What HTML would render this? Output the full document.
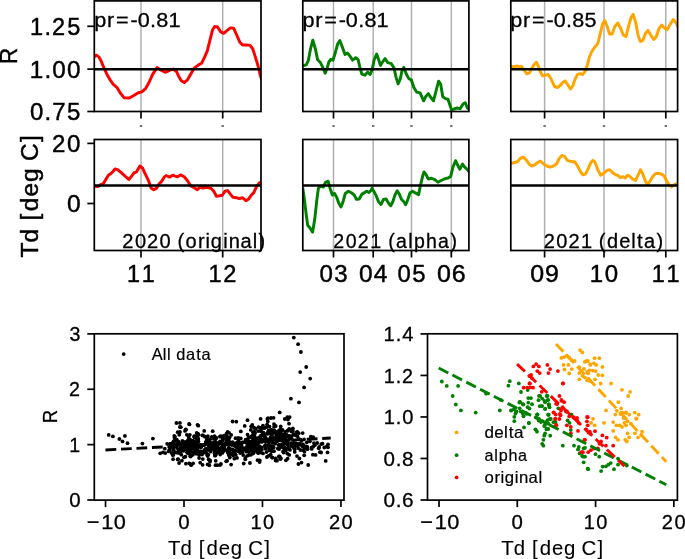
<!DOCTYPE html>
<html><head><meta charset="utf-8"><title>R vs Td</title>
<style>html,body{margin:0;padding:0;background:#fff;} svg{display:block;will-change:transform;} text{font-family:"Liberation Sans", sans-serif;}</style>
</head><body>
<svg width="685" height="559" viewBox="0 0 685 559">
<rect width="685" height="559" fill="#fff"/>
<defs><clipPath id="ct0"><rect x="94.3" y="0.9" width="166.7" height="110.6"/></clipPath><clipPath id="cm0"><rect x="94.3" y="139.5" width="166.7" height="111.0"/></clipPath><clipPath id="ct1"><rect x="302.8" y="0.9" width="166.09999999999997" height="110.6"/></clipPath><clipPath id="cm1"><rect x="302.8" y="139.5" width="166.09999999999997" height="111.0"/></clipPath><clipPath id="ct2"><rect x="510.8" y="0.9" width="166.8" height="110.6"/></clipPath><clipPath id="cm2"><rect x="510.8" y="139.5" width="166.8" height="111.0"/></clipPath><clipPath id="cbl"><rect x="94.3" y="333.8" width="249.7" height="166.3"/></clipPath><clipPath id="cbr"><rect x="427.5" y="333.8" width="249.89999999999998" height="166.3"/></clipPath></defs>
<line x1="141.00" y1="0.90" x2="141.00" y2="111.50" stroke="#b0b0b0" stroke-width="1.5"/>
<line x1="222.70" y1="0.90" x2="222.70" y2="111.50" stroke="#b0b0b0" stroke-width="1.5"/>
<line x1="141.00" y1="139.50" x2="141.00" y2="250.50" stroke="#b0b0b0" stroke-width="1.5"/>
<line x1="222.70" y1="139.50" x2="222.70" y2="250.50" stroke="#b0b0b0" stroke-width="1.5"/>
<line x1="333.50" y1="0.90" x2="333.50" y2="111.50" stroke="#b0b0b0" stroke-width="1.5"/>
<line x1="373.20" y1="0.90" x2="373.20" y2="111.50" stroke="#b0b0b0" stroke-width="1.5"/>
<line x1="411.50" y1="0.90" x2="411.50" y2="111.50" stroke="#b0b0b0" stroke-width="1.5"/>
<line x1="451.30" y1="0.90" x2="451.30" y2="111.50" stroke="#b0b0b0" stroke-width="1.5"/>
<line x1="333.50" y1="139.50" x2="333.50" y2="250.50" stroke="#b0b0b0" stroke-width="1.5"/>
<line x1="373.20" y1="139.50" x2="373.20" y2="250.50" stroke="#b0b0b0" stroke-width="1.5"/>
<line x1="411.50" y1="139.50" x2="411.50" y2="250.50" stroke="#b0b0b0" stroke-width="1.5"/>
<line x1="451.30" y1="139.50" x2="451.30" y2="250.50" stroke="#b0b0b0" stroke-width="1.5"/>
<line x1="544.60" y1="0.90" x2="544.60" y2="111.50" stroke="#b0b0b0" stroke-width="1.5"/>
<line x1="604.00" y1="0.90" x2="604.00" y2="111.50" stroke="#b0b0b0" stroke-width="1.5"/>
<line x1="665.80" y1="0.90" x2="665.80" y2="111.50" stroke="#b0b0b0" stroke-width="1.5"/>
<line x1="544.60" y1="139.50" x2="544.60" y2="250.50" stroke="#b0b0b0" stroke-width="1.5"/>
<line x1="604.00" y1="139.50" x2="604.00" y2="250.50" stroke="#b0b0b0" stroke-width="1.5"/>
<line x1="665.80" y1="139.50" x2="665.80" y2="250.50" stroke="#b0b0b0" stroke-width="1.5"/>
<g clip-path="url(#ct0)">
<polyline points="94.6,56.9 96.3,55.1 98.9,56.9 101.1,61.0 104.0,68.1 107.0,74.4 110.6,80.7 113.3,84.3 116.8,87.3 120.4,93.2 124.0,97.7 129.4,98.0 133.8,95.5 138.3,92.7 141.9,91.9 145.5,88.7 149.0,82.5 152.6,74.4 157.1,67.6 160.7,69.9 165.1,72.3 169.6,70.5 173.2,69.0 176.5,71.5 178.6,76.2 181.3,80.7 184.3,82.5 187.5,79.8 191.1,73.5 194.7,67.6 198.3,65.1 201.5,63.3 204.5,57.4 207.2,51.2 209.9,40.4 212.6,29.7 214.7,26.5 217.6,27.0 220.6,31.8 223.7,33.3 226.9,30.6 230.5,27.9 233.7,28.3 236.7,35.0 239.8,42.2 242.6,44.9 246.6,44.9 250.1,45.4 252.8,49.0 255.5,57.4 258.2,66.4 260.5,76.2 262.0,80.0" fill="none" stroke="#ff0000" stroke-width="2.95" stroke-linejoin="round" stroke-linecap="butt"/>
</g>
<g clip-path="url(#cm0)">
<polyline points="94.6,186.2 95.3,186.2 97.9,186.6 100.5,184.7 103.1,184.0 105.8,179.4 108.4,175.2 111.0,173.5 113.0,171.5 115.0,168.9 117.6,169.6 121.5,172.8 125.5,176.5 128.8,179.4 131.4,176.5 134.0,172.8 136.6,171.8 139.9,166.0 142.6,168.2 145.2,173.9 148.5,180.7 151.1,188.0 153.7,189.7 156.4,188.4 159.0,184.0 161.6,181.4 164.2,177.2 166.2,175.5 169.5,177.1 172.8,175.2 175.0,176.1 177.6,176.8 180.5,174.9 184.2,176.8 187.5,180.7 190.8,186.0 194.7,188.0 197.3,189.7 200.0,187.3 203.2,188.0 206.5,187.3 211.1,188.4 213.8,191.2 216.4,196.2 219.7,195.8 222.3,195.2 224.9,191.2 227.6,190.6 230.2,193.9 232.8,197.2 236.8,197.8 239.4,198.5 242.7,197.8 246.0,200.7 248.6,199.1 251.2,195.2 253.8,192.6 256.5,186.6 259.1,183.1 261.5,182.0" fill="none" stroke="#ff0000" stroke-width="2.95" stroke-linejoin="round" stroke-linecap="butt"/>
</g>
<g clip-path="url(#ct1)">
<polyline points="302.8,66.0 303.8,65.5 306.2,64.9 308.3,60.7 310.4,49.4 312.8,40.2 315.5,49.4 317.6,59.7 320.2,62.2 322.3,66.3 325.2,73.1 327.2,68.0 328.9,61.8 331.0,59.3 333.0,60.1 335.1,53.5 337.5,44.3 339.8,40.6 342.3,47.0 345.0,54.6 347.4,53.1 349.9,56.0 352.6,60.1 355.7,57.7 358.1,59.7 359.8,66.9 361.8,74.1 364.9,75.2 367.6,72.1 370.1,74.5 372.1,70.0 374.2,59.7 376.7,54.0 378.7,59.7 380.5,65.4 382.5,62.1 385.1,58.6 387.8,62.7 391.3,63.7 394.0,67.9 396.0,77.1 398.1,83.9 400.2,79.2 402.2,69.9 403.9,67.4 406.3,74.0 408.8,78.6 411.3,79.8 413.9,87.4 416.6,92.1 420.1,92.9 423.6,100.8 425.7,96.6 428.3,93.6 431.0,97.7 433.5,100.8 435.9,91.5 438.6,81.2 440.7,84.3 442.7,96.6 445.4,98.7 447.9,99.1 449.9,104.9 451.6,110.0 454.0,109.0 457.1,108.0 460.2,108.6 463.3,103.8 465.3,102.8 467.4,108.0 469.5,109.5" fill="none" stroke="#008000" stroke-width="2.95" stroke-linejoin="round" stroke-linecap="butt"/>
</g>
<g clip-path="url(#cm1)">
<polyline points="302.7,187.6 304.4,199.4 306.2,214.5 307.7,225.2 309.8,227.8 312.6,232.1 314.8,218.8 316.9,199.4 318.4,188.3 320.6,186.1 323.3,187.0 325.5,182.3 328.1,181.2 330.2,188.7 332.4,195.1 334.5,193.4 336.7,197.3 338.8,203.3 341.0,207.0 343.1,201.6 345.3,193.4 348.5,191.3 351.7,193.0 354.3,195.1 356.4,199.4 359.2,199.0 362.0,194.1 364.6,192.6 366.7,191.3 368.9,192.6 371.0,190.4 372.1,188.3 374.2,191.9 376.4,196.2 378.5,201.6 381.0,204.5 383.5,199.4 386.1,199.0 388.6,203.2 390.7,205.8 392.9,201.5 395.0,195.0 397.2,190.8 399.3,194.0 401.4,199.3 403.6,201.5 405.7,204.7 407.9,199.3 410.0,192.9 412.6,191.2 415.4,192.9 418.6,194.6 420.7,184.3 422.5,176.8 424.0,171.9 426.1,174.7 428.3,179.0 431.5,178.3 434.7,179.6 437.9,182.2 441.1,180.5 444.3,179.0 448.2,177.9 450.8,176.2 452.9,167.2 455.5,160.7 457.6,165.0 459.8,169.3 462.6,164.0 464.7,167.2 467.5,169.7 469.5,172.5" fill="none" stroke="#008000" stroke-width="2.95" stroke-linejoin="round" stroke-linecap="butt"/>
</g>
<g clip-path="url(#ct2)">
<polyline points="511.0,66.3 514.3,66.9 516.9,65.9 519.4,66.9 521.5,66.3 523.9,70.0 526.6,73.7 529.3,73.1 531.4,69.0 533.8,64.9 536.3,62.2 538.4,66.3 540.4,72.1 542.5,75.8 545.2,75.2 548.2,74.5 551.3,79.3 554.4,86.5 557.5,87.5 560.2,85.5 562.7,82.4 565.1,80.9 567.8,84.8 570.5,89.0 573.0,85.5 575.0,79.3 577.5,74.5 580.2,73.7 582.8,74.5 585.3,71.0 587.4,64.9 589.4,57.0 591.8,51.5 594.5,47.5 597.8,43.6 600.3,33.3 602.7,23.6 604.8,20.6 606.9,25.7 609.5,33.9 612.2,33.9 614.7,26.7 617.8,23.0 620.4,27.8 623.3,35.0 626.0,36.6 628.7,25.7 631.1,17.5 633.2,14.4 635.7,22.6 638.3,36.0 640.4,41.5 643.1,40.1 645.5,33.3 648.0,30.4 650.7,35.0 653.7,39.5 656.2,37.0 658.9,28.8 661.6,25.1 664.4,27.8 667.1,29.8 670.2,24.3 673.3,19.5 676.0,22.6 678.0,27.0" fill="none" stroke="#ffa500" stroke-width="2.95" stroke-linejoin="round" stroke-linecap="butt"/>
</g>
<g clip-path="url(#cm2)">
<polyline points="511.0,163.4 511.4,163.4 514.7,162.5 517.5,161.8 520.0,158.6 523.3,156.9 526.5,160.3 529.1,164.0 531.8,166.1 535.1,164.6 537.6,162.5 540.4,161.2 543.7,164.0 546.9,166.1 550.1,167.2 553.3,166.1 556.5,164.0 559.1,158.6 561.9,155.4 564.7,156.5 567.3,160.3 569.9,161.2 572.7,161.8 574.8,161.8 577.6,166.1 580.2,171.1 582.7,174.7 585.5,174.1 588.3,168.3 590.9,162.5 593.0,160.3 595.0,162.0 597.5,169.3 600.7,175.3 603.9,173.2 607.2,170.4 609.7,169.7 612.5,172.5 615.3,174.7 617.9,175.3 620.5,177.5 623.2,176.8 625.4,177.9 627.5,175.3 629.7,176.2 632.5,179.0 635.5,180.5 638.3,174.7 640.4,169.7 642.5,173.2 645.3,181.1 647.5,184.3 650.0,181.1 652.6,176.8 655.4,173.6 658.2,173.2 661.2,174.0 664.0,175.7 666.1,180.0 668.9,184.8 671.5,186.9 674.1,184.8 678.0,183.0" fill="none" stroke="#ffa500" stroke-width="2.95" stroke-linejoin="round" stroke-linecap="butt"/>
</g>
<line x1="94.30" y1="69.30" x2="261.00" y2="69.30" stroke="#000" stroke-width="2.5"/>
<line x1="94.30" y1="185.50" x2="261.00" y2="185.50" stroke="#000" stroke-width="2.5"/>
<line x1="302.80" y1="69.30" x2="468.90" y2="69.30" stroke="#000" stroke-width="2.5"/>
<line x1="302.80" y1="185.50" x2="468.90" y2="185.50" stroke="#000" stroke-width="2.5"/>
<line x1="510.80" y1="69.30" x2="677.60" y2="69.30" stroke="#000" stroke-width="2.5"/>
<line x1="510.80" y1="185.50" x2="677.60" y2="185.50" stroke="#000" stroke-width="2.5"/>
<rect x="94.30" y="0.90" width="166.70" height="110.60" fill="none" stroke="#000" stroke-width="1.7"/>
<rect x="94.30" y="139.50" width="166.70" height="111.00" fill="none" stroke="#000" stroke-width="1.7"/>
<line x1="141.00" y1="111.50" x2="141.00" y2="118.50" stroke="#000" stroke-width="1.7"/>
<line x1="141.00" y1="250.50" x2="141.00" y2="257.50" stroke="#000" stroke-width="1.7"/>
<rect x="139.8" y="125.1" width="2.4" height="1.8" fill="#666"/>
<line x1="222.70" y1="111.50" x2="222.70" y2="118.50" stroke="#000" stroke-width="1.7"/>
<line x1="222.70" y1="250.50" x2="222.70" y2="257.50" stroke="#000" stroke-width="1.7"/>
<rect x="221.5" y="125.1" width="2.4" height="1.8" fill="#666"/>
<text x="0.81 16.42" y="282.10" font-size="24.70" fill="#000" stroke="#000" stroke-width="0.45" transform="translate(126.18 0) scale(0.9498 1)">11</text>
<text x="0.78 16.11" y="282.10" font-size="24.70" fill="#000" stroke="#000" stroke-width="0.45" transform="translate(207.88 0) scale(0.9543 1)">12</text>
<rect x="302.80" y="0.90" width="166.10" height="110.60" fill="none" stroke="#000" stroke-width="1.7"/>
<rect x="302.80" y="139.50" width="166.10" height="111.00" fill="none" stroke="#000" stroke-width="1.7"/>
<line x1="333.50" y1="111.50" x2="333.50" y2="118.50" stroke="#000" stroke-width="1.7"/>
<line x1="333.50" y1="250.50" x2="333.50" y2="257.50" stroke="#000" stroke-width="1.7"/>
<rect x="332.3" y="125.1" width="2.4" height="1.8" fill="#666"/>
<line x1="373.20" y1="111.50" x2="373.20" y2="118.50" stroke="#000" stroke-width="1.7"/>
<line x1="373.20" y1="250.50" x2="373.20" y2="257.50" stroke="#000" stroke-width="1.7"/>
<rect x="372.0" y="125.1" width="2.4" height="1.8" fill="#666"/>
<line x1="411.50" y1="111.50" x2="411.50" y2="118.50" stroke="#000" stroke-width="1.7"/>
<line x1="411.50" y1="250.50" x2="411.50" y2="257.50" stroke="#000" stroke-width="1.7"/>
<rect x="410.3" y="125.1" width="2.4" height="1.8" fill="#666"/>
<line x1="451.30" y1="111.50" x2="451.30" y2="118.50" stroke="#000" stroke-width="1.7"/>
<line x1="451.30" y1="250.50" x2="451.30" y2="257.50" stroke="#000" stroke-width="1.7"/>
<rect x="450.1" y="125.1" width="2.4" height="1.8" fill="#666"/>
<text x="0.73 15.97" y="282.10" font-size="24.70" fill="#000" stroke="#000" stroke-width="0.45" transform="translate(318.68 0) scale(0.9748 1)">03</text>
<text x="0.58 15.48" y="282.10" font-size="24.70" fill="#000" stroke="#000" stroke-width="0.45" transform="translate(358.38 0) scale(0.9945 1)">04</text>
<text x="0.79 16.04" y="282.10" font-size="24.70" fill="#000" stroke="#000" stroke-width="0.45" transform="translate(396.68 0) scale(0.9666 1)">05</text>
<text x="0.45 15.11" y="282.10" font-size="24.70" fill="#000" stroke="#000" stroke-width="0.45" transform="translate(436.48 0) scale(1.0116 1)">06</text>
<rect x="510.80" y="0.90" width="166.80" height="110.60" fill="none" stroke="#000" stroke-width="1.7"/>
<rect x="510.80" y="139.50" width="166.80" height="111.00" fill="none" stroke="#000" stroke-width="1.7"/>
<line x1="544.60" y1="111.50" x2="544.60" y2="118.50" stroke="#000" stroke-width="1.7"/>
<line x1="544.60" y1="250.50" x2="544.60" y2="257.50" stroke="#000" stroke-width="1.7"/>
<rect x="543.4" y="125.1" width="2.4" height="1.8" fill="#666"/>
<line x1="604.00" y1="111.50" x2="604.00" y2="118.50" stroke="#000" stroke-width="1.7"/>
<line x1="604.00" y1="250.50" x2="604.00" y2="257.50" stroke="#000" stroke-width="1.7"/>
<rect x="602.8" y="125.1" width="2.4" height="1.8" fill="#666"/>
<line x1="665.80" y1="111.50" x2="665.80" y2="118.50" stroke="#000" stroke-width="1.7"/>
<line x1="665.80" y1="250.50" x2="665.80" y2="257.50" stroke="#000" stroke-width="1.7"/>
<rect x="664.6" y="125.1" width="2.4" height="1.8" fill="#666"/>
<text x="0.46 15.06" y="282.10" font-size="24.70" fill="#000" stroke="#000" stroke-width="0.45" transform="translate(529.78 0) scale(1.0105 1)">09</text>
<text x="0.62 15.97" y="282.10" font-size="24.70" fill="#000" stroke="#000" stroke-width="0.45" transform="translate(589.18 0) scale(0.9733 1)">10</text>
<text x="0.81 16.42" y="282.10" font-size="24.70" fill="#000" stroke="#000" stroke-width="0.45" transform="translate(650.98 0) scale(0.9498 1)">11</text>
<line x1="87.30" y1="26.30" x2="94.30" y2="26.30" stroke="#000" stroke-width="1.7"/>
<text x="0.78 15.99 23.89 39.67" y="34.80" font-size="24.70" fill="#000" stroke="#000" stroke-width="0.45" transform="translate(29.32 0) scale(0.9535 1)">1.25</text>
<line x1="87.30" y1="69.10" x2="94.30" y2="69.10" stroke="#000" stroke-width="1.7"/>
<text x="0.54 15.40 23.28 38.35" y="77.60" font-size="24.70" fill="#000" stroke="#000" stroke-width="0.45" transform="translate(29.32 0) scale(0.9832 1)">1.00</text>
<line x1="87.30" y1="111.50" x2="94.30" y2="111.50" stroke="#000" stroke-width="1.7"/>
<text x="0.75 15.62 23.58 38.78" y="120.00" font-size="24.70" fill="#000" stroke="#000" stroke-width="0.45" transform="translate(29.32 0) scale(0.9719 1)">0.75</text>
<line x1="87.30" y1="143.40" x2="94.30" y2="143.40" stroke="#000" stroke-width="1.7"/>
<text x="0.40 15.89" y="151.90" font-size="24.70" fill="#000" stroke="#000" stroke-width="0.45" transform="translate(51.55 0) scale(0.9769 1)">20</text>
<line x1="87.30" y1="203.50" x2="94.30" y2="203.50" stroke="#000" stroke-width="1.7"/>
<text x="0.58" y="212.00" font-size="24.70" fill="#000" stroke="#000" stroke-width="0.45" transform="translate(66.38 0) scale(0.9945 1)">0</text>
<text x="0.51" y="56.40" font-size="24.70" fill="#000" stroke="#000" stroke-width="0.45" transform="rotate(-90 17.20 56.40) translate(9.11 0) scale(0.9023 1)">R</text>
<text x="-0.37 14.78 29.25 36.94 46.31 61.17 75.66 90.12 96.73 116.04" y="196.00" font-size="24.70" fill="#000" stroke="#000" stroke-width="0.45" transform="rotate(-90 38.40 196.00) translate(-22.70 0) scale(0.9924 1)">Td [deg C]</text>
<text x="0.23 12.39 21.00 34.62 41.50 53.15 59.09 70.70" y="26.70" font-size="20.56" fill="#000" stroke="#000" stroke-width="0.3" transform="translate(94.00 0) scale(1.0527 1)">pr=-0.81</text>
<text x="0.23 12.39 21.00 34.62 41.50 53.15 59.09 70.70" y="26.70" font-size="20.56" fill="#000" stroke="#000" stroke-width="0.3" transform="translate(302.20 0) scale(1.0527 1)">pr=-0.81</text>
<text x="0.25 12.44 21.08 34.74 41.65 53.33 59.29 70.98" y="26.70" font-size="20.56" fill="#000" stroke="#000" stroke-width="0.3" transform="translate(510.00 0) scale(1.0494 1)">pr=-0.85</text>
<text x="0.34 13.25 25.64 38.55 50.60 56.85 65.04 77.89 85.50 91.00 103.64 109.30 121.44 133.94 139.96" y="248.40" font-size="20.56" fill="#000" stroke="#000" stroke-width="0.3" transform="translate(122.00 0) scale(0.9758 1)">2020 (original)</text>
<text x="0.49 13.73 26.43 39.57 51.87 58.38 66.60 79.34 85.34 98.15 110.61 123.87" y="248.40" font-size="20.56" fill="#000" stroke="#000" stroke-width="0.3" transform="translate(332.70 0) scale(0.9518 1)">2021 (alpha)</text>
<text x="0.36 13.32 25.75 38.60 50.77 57.06 65.39 78.02 90.32 96.38 103.38 116.41" y="248.40" font-size="20.56" fill="#000" stroke="#000" stroke-width="0.3" transform="translate(543.40 0) scale(0.9724 1)">2021 (delta)</text>
<g clip-path="url(#cbl)">
<circle cx="293.8" cy="337.6" r="1.9"/>
<circle cx="298.1" cy="344.2" r="1.9"/>
<circle cx="300.9" cy="352.0" r="1.9"/>
<circle cx="306.2" cy="367.0" r="1.9"/>
<circle cx="300.2" cy="372.1" r="1.9"/>
<circle cx="310.2" cy="378.6" r="1.9"/>
<circle cx="304.1" cy="387.4" r="1.9"/>
<circle cx="290.9" cy="398.7" r="1.9"/>
<circle cx="299.0" cy="402.4" r="1.9"/>
<circle cx="279.7" cy="412.4" r="1.9"/>
<circle cx="108.7" cy="434.9" r="1.9"/>
<circle cx="112.9" cy="436.4" r="1.9"/>
<circle cx="119.4" cy="439.0" r="1.9"/>
<circle cx="122.5" cy="441.4" r="1.9"/>
<circle cx="124.9" cy="435.9" r="1.9"/>
<circle cx="127.5" cy="443.2" r="1.9"/>
<circle cx="142.4" cy="443.6" r="1.9"/>
<circle cx="152.9" cy="438.6" r="1.9"/>
<circle cx="160.2" cy="453.3" r="1.9"/>
<circle cx="163.0" cy="452.4" r="1.9"/>
<circle cx="164.8" cy="448.7" r="1.9"/>
<circle cx="167.2" cy="443.8" r="1.9"/>
<circle cx="173.1" cy="459.2" r="1.9"/>
<circle cx="178.2" cy="459.2" r="1.9"/>
<circle cx="181.9" cy="460.7" r="1.9"/>
<circle cx="180.1" cy="452.4" r="1.9"/>
<circle cx="173.1" cy="442.3" r="1.9"/>
<circle cx="174.9" cy="436.8" r="1.9"/>
<circle cx="177.7" cy="432.2" r="1.9"/>
<circle cx="180.8" cy="427.2" r="1.9"/>
<circle cx="189.1" cy="423.9" r="1.9"/>
<circle cx="197.5" cy="424.8" r="1.9"/>
<circle cx="185.0" cy="430.9" r="1.9"/>
<circle cx="232.6" cy="442.1" r="1.9"/>
<circle cx="195.3" cy="451.8" r="1.9"/>
<circle cx="183.8" cy="450.0" r="1.9"/>
<circle cx="222.3" cy="452.9" r="1.9"/>
<circle cx="247.2" cy="448.3" r="1.9"/>
<circle cx="287.3" cy="453.6" r="1.9"/>
<circle cx="192.9" cy="452.2" r="1.9"/>
<circle cx="286.0" cy="434.6" r="1.9"/>
<circle cx="281.5" cy="444.7" r="1.9"/>
<circle cx="199.1" cy="458.1" r="1.9"/>
<circle cx="194.0" cy="448.2" r="1.9"/>
<circle cx="302.0" cy="446.1" r="1.9"/>
<circle cx="253.0" cy="453.6" r="1.9"/>
<circle cx="292.0" cy="444.8" r="1.9"/>
<circle cx="290.1" cy="436.2" r="1.9"/>
<circle cx="264.9" cy="434.2" r="1.9"/>
<circle cx="196.7" cy="442.5" r="1.9"/>
<circle cx="201.5" cy="445.7" r="1.9"/>
<circle cx="252.7" cy="451.4" r="1.9"/>
<circle cx="193.9" cy="446.9" r="1.9"/>
<circle cx="179.0" cy="450.3" r="1.9"/>
<circle cx="232.6" cy="421.5" r="1.9"/>
<circle cx="228.9" cy="441.1" r="1.9"/>
<circle cx="232.0" cy="445.0" r="1.9"/>
<circle cx="174.3" cy="445.2" r="1.9"/>
<circle cx="185.5" cy="444.2" r="1.9"/>
<circle cx="211.8" cy="436.8" r="1.9"/>
<circle cx="206.4" cy="437.2" r="1.9"/>
<circle cx="249.3" cy="449.7" r="1.9"/>
<circle cx="281.3" cy="447.1" r="1.9"/>
<circle cx="277.5" cy="440.6" r="1.9"/>
<circle cx="243.2" cy="455.0" r="1.9"/>
<circle cx="220.6" cy="436.2" r="1.9"/>
<circle cx="194.4" cy="437.3" r="1.9"/>
<circle cx="221.3" cy="448.7" r="1.9"/>
<circle cx="213.2" cy="444.3" r="1.9"/>
<circle cx="194.7" cy="447.9" r="1.9"/>
<circle cx="165.3" cy="453.1" r="1.9"/>
<circle cx="295.1" cy="446.2" r="1.9"/>
<circle cx="187.8" cy="447.4" r="1.9"/>
<circle cx="222.9" cy="447.7" r="1.9"/>
<circle cx="251.1" cy="441.6" r="1.9"/>
<circle cx="231.5" cy="453.8" r="1.9"/>
<circle cx="261.2" cy="449.8" r="1.9"/>
<circle cx="232.2" cy="449.4" r="1.9"/>
<circle cx="170.6" cy="443.9" r="1.9"/>
<circle cx="184.0" cy="457.3" r="1.9"/>
<circle cx="179.1" cy="463.0" r="1.9"/>
<circle cx="214.6" cy="444.2" r="1.9"/>
<circle cx="199.7" cy="446.5" r="1.9"/>
<circle cx="190.1" cy="463.8" r="1.9"/>
<circle cx="255.5" cy="442.7" r="1.9"/>
<circle cx="189.6" cy="453.6" r="1.9"/>
<circle cx="294.0" cy="442.7" r="1.9"/>
<circle cx="183.4" cy="450.8" r="1.9"/>
<circle cx="224.8" cy="445.5" r="1.9"/>
<circle cx="256.9" cy="448.5" r="1.9"/>
<circle cx="229.7" cy="444.2" r="1.9"/>
<circle cx="181.5" cy="443.8" r="1.9"/>
<circle cx="227.3" cy="444.4" r="1.9"/>
<circle cx="296.3" cy="443.4" r="1.9"/>
<circle cx="278.9" cy="440.0" r="1.9"/>
<circle cx="199.0" cy="455.1" r="1.9"/>
<circle cx="205.0" cy="452.1" r="1.9"/>
<circle cx="257.1" cy="440.2" r="1.9"/>
<circle cx="264.8" cy="445.8" r="1.9"/>
<circle cx="198.1" cy="434.0" r="1.9"/>
<circle cx="284.5" cy="447.8" r="1.9"/>
<circle cx="252.7" cy="435.6" r="1.9"/>
<circle cx="189.5" cy="424.4" r="1.9"/>
<circle cx="285.4" cy="438.2" r="1.9"/>
<circle cx="228.5" cy="451.6" r="1.9"/>
<circle cx="270.3" cy="433.3" r="1.9"/>
<circle cx="189.0" cy="440.3" r="1.9"/>
<circle cx="276.4" cy="437.8" r="1.9"/>
<circle cx="215.8" cy="454.0" r="1.9"/>
<circle cx="263.3" cy="439.7" r="1.9"/>
<circle cx="291.2" cy="446.1" r="1.9"/>
<circle cx="257.8" cy="452.6" r="1.9"/>
<circle cx="200.6" cy="451.2" r="1.9"/>
<circle cx="179.3" cy="444.7" r="1.9"/>
<circle cx="289.0" cy="429.7" r="1.9"/>
<circle cx="173.7" cy="444.5" r="1.9"/>
<circle cx="272.0" cy="457.4" r="1.9"/>
<circle cx="215.6" cy="438.3" r="1.9"/>
<circle cx="202.4" cy="452.4" r="1.9"/>
<circle cx="275.3" cy="443.7" r="1.9"/>
<circle cx="202.0" cy="454.6" r="1.9"/>
<circle cx="186.3" cy="445.7" r="1.9"/>
<circle cx="249.3" cy="443.4" r="1.9"/>
<circle cx="287.9" cy="443.7" r="1.9"/>
<circle cx="198.4" cy="441.5" r="1.9"/>
<circle cx="174.8" cy="441.3" r="1.9"/>
<circle cx="185.0" cy="444.5" r="1.9"/>
<circle cx="313.2" cy="437.1" r="1.9"/>
<circle cx="280.3" cy="438.0" r="1.9"/>
<circle cx="230.0" cy="453.4" r="1.9"/>
<circle cx="191.4" cy="442.9" r="1.9"/>
<circle cx="273.6" cy="417.8" r="1.9"/>
<circle cx="283.1" cy="451.4" r="1.9"/>
<circle cx="206.1" cy="449.7" r="1.9"/>
<circle cx="269.4" cy="431.0" r="1.9"/>
<circle cx="273.8" cy="432.7" r="1.9"/>
<circle cx="225.4" cy="443.5" r="1.9"/>
<circle cx="265.5" cy="448.8" r="1.9"/>
<circle cx="261.2" cy="447.7" r="1.9"/>
<circle cx="297.4" cy="436.2" r="1.9"/>
<circle cx="180.0" cy="432.0" r="1.9"/>
<circle cx="301.5" cy="462.6" r="1.9"/>
<circle cx="200.5" cy="447.2" r="1.9"/>
<circle cx="271.1" cy="448.4" r="1.9"/>
<circle cx="189.1" cy="449.1" r="1.9"/>
<circle cx="273.1" cy="446.4" r="1.9"/>
<circle cx="187.1" cy="442.2" r="1.9"/>
<circle cx="300.4" cy="450.0" r="1.9"/>
<circle cx="180.4" cy="448.6" r="1.9"/>
<circle cx="256.2" cy="443.2" r="1.9"/>
<circle cx="183.3" cy="449.1" r="1.9"/>
<circle cx="194.4" cy="441.6" r="1.9"/>
<circle cx="218.3" cy="442.8" r="1.9"/>
<circle cx="231.1" cy="464.6" r="1.9"/>
<circle cx="224.2" cy="435.9" r="1.9"/>
<circle cx="240.1" cy="447.7" r="1.9"/>
<circle cx="235.5" cy="438.2" r="1.9"/>
<circle cx="190.6" cy="444.4" r="1.9"/>
<circle cx="216.1" cy="445.1" r="1.9"/>
<circle cx="232.0" cy="444.4" r="1.9"/>
<circle cx="293.7" cy="447.3" r="1.9"/>
<circle cx="258.6" cy="438.1" r="1.9"/>
<circle cx="220.9" cy="464.0" r="1.9"/>
<circle cx="278.4" cy="438.2" r="1.9"/>
<circle cx="258.9" cy="448.1" r="1.9"/>
<circle cx="203.5" cy="452.4" r="1.9"/>
<circle cx="179.2" cy="434.8" r="1.9"/>
<circle cx="277.0" cy="460.7" r="1.9"/>
<circle cx="274.2" cy="439.6" r="1.9"/>
<circle cx="267.8" cy="432.4" r="1.9"/>
<circle cx="271.0" cy="418.0" r="1.9"/>
<circle cx="216.0" cy="453.3" r="1.9"/>
<circle cx="310.8" cy="436.7" r="1.9"/>
<circle cx="260.3" cy="441.1" r="1.9"/>
<circle cx="185.7" cy="429.4" r="1.9"/>
<circle cx="265.6" cy="444.8" r="1.9"/>
<circle cx="281.7" cy="444.4" r="1.9"/>
<circle cx="272.1" cy="434.8" r="1.9"/>
<circle cx="182.5" cy="449.5" r="1.9"/>
<circle cx="219.9" cy="436.7" r="1.9"/>
<circle cx="288.5" cy="435.8" r="1.9"/>
<circle cx="272.9" cy="440.5" r="1.9"/>
<circle cx="173.5" cy="441.5" r="1.9"/>
<circle cx="237.9" cy="450.9" r="1.9"/>
<circle cx="257.0" cy="438.2" r="1.9"/>
<circle cx="261.9" cy="447.3" r="1.9"/>
<circle cx="255.7" cy="428.9" r="1.9"/>
<circle cx="185.9" cy="463.7" r="1.9"/>
<circle cx="195.3" cy="436.5" r="1.9"/>
<circle cx="190.5" cy="456.5" r="1.9"/>
<circle cx="200.6" cy="444.8" r="1.9"/>
<circle cx="234.8" cy="452.9" r="1.9"/>
<circle cx="270.0" cy="439.8" r="1.9"/>
<circle cx="208.9" cy="446.2" r="1.9"/>
<circle cx="205.7" cy="449.2" r="1.9"/>
<circle cx="185.4" cy="456.7" r="1.9"/>
<circle cx="178.3" cy="441.5" r="1.9"/>
<circle cx="309.9" cy="441.4" r="1.9"/>
<circle cx="190.3" cy="450.7" r="1.9"/>
<circle cx="247.8" cy="442.1" r="1.9"/>
<circle cx="263.4" cy="432.6" r="1.9"/>
<circle cx="273.7" cy="437.8" r="1.9"/>
<circle cx="175.1" cy="439.8" r="1.9"/>
<circle cx="214.3" cy="448.6" r="1.9"/>
<circle cx="319.2" cy="447.0" r="1.9"/>
<circle cx="283.5" cy="443.6" r="1.9"/>
<circle cx="257.4" cy="445.0" r="1.9"/>
<circle cx="210.1" cy="439.2" r="1.9"/>
<circle cx="220.7" cy="449.2" r="1.9"/>
<circle cx="278.9" cy="456.5" r="1.9"/>
<circle cx="195.8" cy="448.0" r="1.9"/>
<circle cx="254.4" cy="450.1" r="1.9"/>
<circle cx="264.3" cy="428.2" r="1.9"/>
<circle cx="307.2" cy="446.8" r="1.9"/>
<circle cx="228.7" cy="455.1" r="1.9"/>
<circle cx="288.8" cy="440.1" r="1.9"/>
<circle cx="178.8" cy="450.2" r="1.9"/>
<circle cx="177.1" cy="445.4" r="1.9"/>
<circle cx="270.7" cy="436.9" r="1.9"/>
<circle cx="175.4" cy="452.1" r="1.9"/>
<circle cx="206.9" cy="439.6" r="1.9"/>
<circle cx="197.6" cy="436.3" r="1.9"/>
<circle cx="214.9" cy="451.8" r="1.9"/>
<circle cx="297.0" cy="456.1" r="1.9"/>
<circle cx="326.8" cy="446.5" r="1.9"/>
<circle cx="305.1" cy="446.9" r="1.9"/>
<circle cx="294.6" cy="446.6" r="1.9"/>
<circle cx="177.6" cy="459.4" r="1.9"/>
<circle cx="216.7" cy="447.1" r="1.9"/>
<circle cx="261.8" cy="449.6" r="1.9"/>
<circle cx="223.1" cy="437.8" r="1.9"/>
<circle cx="237.0" cy="443.2" r="1.9"/>
<circle cx="189.7" cy="440.2" r="1.9"/>
<circle cx="212.7" cy="431.2" r="1.9"/>
<circle cx="289.4" cy="449.0" r="1.9"/>
<circle cx="298.4" cy="464.0" r="1.9"/>
<circle cx="248.9" cy="441.4" r="1.9"/>
<circle cx="263.0" cy="453.4" r="1.9"/>
<circle cx="212.4" cy="447.3" r="1.9"/>
<circle cx="240.2" cy="453.0" r="1.9"/>
<circle cx="275.6" cy="460.6" r="1.9"/>
<circle cx="230.7" cy="442.7" r="1.9"/>
<circle cx="321.2" cy="444.1" r="1.9"/>
<circle cx="236.0" cy="445.9" r="1.9"/>
<circle cx="269.9" cy="440.0" r="1.9"/>
<circle cx="302.9" cy="445.9" r="1.9"/>
<circle cx="253.9" cy="452.6" r="1.9"/>
<circle cx="268.7" cy="455.8" r="1.9"/>
<circle cx="246.5" cy="441.9" r="1.9"/>
<circle cx="173.5" cy="454.8" r="1.9"/>
<circle cx="312.9" cy="454.7" r="1.9"/>
<circle cx="282.9" cy="438.7" r="1.9"/>
<circle cx="300.1" cy="444.3" r="1.9"/>
<circle cx="255.1" cy="433.0" r="1.9"/>
<circle cx="194.9" cy="443.4" r="1.9"/>
<circle cx="327.5" cy="452.4" r="1.9"/>
<circle cx="230.2" cy="450.1" r="1.9"/>
<circle cx="214.5" cy="448.0" r="1.9"/>
<circle cx="188.0" cy="450.1" r="1.9"/>
<circle cx="251.7" cy="451.0" r="1.9"/>
<circle cx="265.2" cy="437.1" r="1.9"/>
<circle cx="243.4" cy="448.1" r="1.9"/>
<circle cx="230.6" cy="454.4" r="1.9"/>
<circle cx="183.8" cy="447.5" r="1.9"/>
<circle cx="291.1" cy="443.1" r="1.9"/>
<circle cx="289.2" cy="436.5" r="1.9"/>
<circle cx="261.5" cy="441.9" r="1.9"/>
<circle cx="215.5" cy="455.3" r="1.9"/>
<circle cx="194.0" cy="442.6" r="1.9"/>
<circle cx="308.2" cy="465.0" r="1.9"/>
<circle cx="179.9" cy="451.9" r="1.9"/>
<circle cx="248.5" cy="441.7" r="1.9"/>
<circle cx="228.7" cy="448.4" r="1.9"/>
<circle cx="245.3" cy="459.3" r="1.9"/>
<circle cx="176.7" cy="439.7" r="1.9"/>
<circle cx="221.6" cy="448.5" r="1.9"/>
<circle cx="232.1" cy="453.3" r="1.9"/>
<circle cx="294.7" cy="449.3" r="1.9"/>
<circle cx="235.2" cy="445.5" r="1.9"/>
<circle cx="209.1" cy="442.9" r="1.9"/>
<circle cx="286.7" cy="435.0" r="1.9"/>
<circle cx="285.8" cy="450.5" r="1.9"/>
<circle cx="198.3" cy="425.7" r="1.9"/>
<circle cx="238.0" cy="439.2" r="1.9"/>
<circle cx="261.0" cy="439.2" r="1.9"/>
<circle cx="188.0" cy="447.3" r="1.9"/>
<circle cx="256.7" cy="438.6" r="1.9"/>
<circle cx="202.6" cy="464.8" r="1.9"/>
<circle cx="222.8" cy="450.7" r="1.9"/>
<circle cx="291.5" cy="429.7" r="1.9"/>
<circle cx="207.6" cy="464.4" r="1.9"/>
<circle cx="314.8" cy="445.2" r="1.9"/>
<circle cx="233.2" cy="455.6" r="1.9"/>
<circle cx="297.7" cy="443.9" r="1.9"/>
<circle cx="247.3" cy="447.1" r="1.9"/>
<circle cx="205.4" cy="443.7" r="1.9"/>
<circle cx="285.0" cy="431.6" r="1.9"/>
<circle cx="215.7" cy="460.8" r="1.9"/>
<circle cx="193.8" cy="446.7" r="1.9"/>
<circle cx="239.0" cy="444.2" r="1.9"/>
<circle cx="303.2" cy="450.2" r="1.9"/>
<circle cx="228.7" cy="451.0" r="1.9"/>
<circle cx="238.5" cy="448.1" r="1.9"/>
<circle cx="187.8" cy="452.7" r="1.9"/>
<circle cx="219.5" cy="449.1" r="1.9"/>
<circle cx="197.1" cy="436.5" r="1.9"/>
<circle cx="280.6" cy="439.0" r="1.9"/>
<circle cx="250.9" cy="436.7" r="1.9"/>
<circle cx="223.2" cy="450.0" r="1.9"/>
<circle cx="210.3" cy="444.5" r="1.9"/>
<circle cx="204.3" cy="452.6" r="1.9"/>
<circle cx="174.8" cy="446.0" r="1.9"/>
<circle cx="214.9" cy="455.7" r="1.9"/>
<circle cx="206.6" cy="452.9" r="1.9"/>
<circle cx="177.0" cy="448.1" r="1.9"/>
<circle cx="251.8" cy="441.5" r="1.9"/>
<circle cx="204.3" cy="450.1" r="1.9"/>
<circle cx="175.4" cy="445.6" r="1.9"/>
<circle cx="268.6" cy="445.1" r="1.9"/>
<circle cx="285.9" cy="460.3" r="1.9"/>
<circle cx="301.4" cy="440.9" r="1.9"/>
<circle cx="254.1" cy="435.6" r="1.9"/>
<circle cx="169.5" cy="450.1" r="1.9"/>
<circle cx="307.5" cy="449.2" r="1.9"/>
<circle cx="237.0" cy="457.9" r="1.9"/>
<circle cx="182.4" cy="440.8" r="1.9"/>
<circle cx="287.3" cy="417.2" r="1.9"/>
<circle cx="173.4" cy="450.6" r="1.9"/>
<circle cx="196.7" cy="433.0" r="1.9"/>
<circle cx="181.2" cy="446.7" r="1.9"/>
<circle cx="305.8" cy="446.4" r="1.9"/>
<circle cx="303.0" cy="444.3" r="1.9"/>
<circle cx="282.4" cy="436.2" r="1.9"/>
<circle cx="215.8" cy="448.2" r="1.9"/>
<circle cx="224.2" cy="448.2" r="1.9"/>
<circle cx="215.9" cy="438.0" r="1.9"/>
<circle cx="193.1" cy="442.3" r="1.9"/>
<circle cx="240.8" cy="431.4" r="1.9"/>
<circle cx="207.7" cy="449.1" r="1.9"/>
<circle cx="208.8" cy="443.5" r="1.9"/>
<circle cx="218.4" cy="452.1" r="1.9"/>
<circle cx="276.1" cy="434.9" r="1.9"/>
<circle cx="201.2" cy="447.1" r="1.9"/>
<circle cx="254.0" cy="438.7" r="1.9"/>
<circle cx="249.9" cy="463.0" r="1.9"/>
<circle cx="254.8" cy="446.4" r="1.9"/>
<circle cx="195.6" cy="443.0" r="1.9"/>
<circle cx="179.2" cy="450.7" r="1.9"/>
<circle cx="253.7" cy="442.1" r="1.9"/>
<circle cx="279.1" cy="449.0" r="1.9"/>
<circle cx="216.3" cy="438.0" r="1.9"/>
<circle cx="279.8" cy="433.0" r="1.9"/>
<circle cx="215.3" cy="441.4" r="1.9"/>
<circle cx="233.9" cy="451.2" r="1.9"/>
<circle cx="197.2" cy="437.0" r="1.9"/>
<circle cx="210.5" cy="443.9" r="1.9"/>
<circle cx="210.4" cy="449.9" r="1.9"/>
<circle cx="179.9" cy="426.9" r="1.9"/>
<circle cx="261.4" cy="431.6" r="1.9"/>
<circle cx="260.5" cy="449.7" r="1.9"/>
<circle cx="214.4" cy="450.5" r="1.9"/>
<circle cx="188.1" cy="453.4" r="1.9"/>
<circle cx="218.0" cy="450.5" r="1.9"/>
<circle cx="257.9" cy="442.0" r="1.9"/>
<circle cx="284.4" cy="447.2" r="1.9"/>
<circle cx="302.5" cy="445.3" r="1.9"/>
<circle cx="181.0" cy="448.1" r="1.9"/>
<circle cx="272.7" cy="442.9" r="1.9"/>
<circle cx="261.7" cy="427.7" r="1.9"/>
<circle cx="304.0" cy="439.4" r="1.9"/>
<circle cx="240.8" cy="438.4" r="1.9"/>
<circle cx="250.8" cy="429.9" r="1.9"/>
<circle cx="215.5" cy="465.2" r="1.9"/>
<circle cx="278.1" cy="434.9" r="1.9"/>
<circle cx="251.5" cy="437.4" r="1.9"/>
<circle cx="180.4" cy="452.6" r="1.9"/>
<circle cx="229.8" cy="442.5" r="1.9"/>
<circle cx="176.3" cy="439.9" r="1.9"/>
<circle cx="318.7" cy="448.3" r="1.9"/>
<circle cx="196.0" cy="448.2" r="1.9"/>
<circle cx="240.7" cy="443.1" r="1.9"/>
<circle cx="221.7" cy="451.1" r="1.9"/>
<circle cx="168.7" cy="451.4" r="1.9"/>
<circle cx="293.5" cy="444.0" r="1.9"/>
<circle cx="203.7" cy="445.0" r="1.9"/>
<circle cx="236.3" cy="421.7" r="1.9"/>
<circle cx="174.5" cy="437.7" r="1.9"/>
<circle cx="268.0" cy="418.2" r="1.9"/>
<circle cx="251.2" cy="426.3" r="1.9"/>
<circle cx="238.3" cy="437.8" r="1.9"/>
<circle cx="196.6" cy="446.8" r="1.9"/>
<circle cx="298.7" cy="438.8" r="1.9"/>
<circle cx="287.1" cy="448.6" r="1.9"/>
<circle cx="287.6" cy="458.7" r="1.9"/>
<circle cx="282.9" cy="437.6" r="1.9"/>
<circle cx="251.4" cy="445.5" r="1.9"/>
<circle cx="243.7" cy="463.5" r="1.9"/>
<circle cx="224.1" cy="446.7" r="1.9"/>
<circle cx="282.5" cy="430.0" r="1.9"/>
<circle cx="247.2" cy="439.6" r="1.9"/>
<circle cx="228.3" cy="442.0" r="1.9"/>
<circle cx="188.1" cy="447.9" r="1.9"/>
<circle cx="209.9" cy="443.4" r="1.9"/>
<circle cx="173.1" cy="448.1" r="1.9"/>
<circle cx="190.3" cy="456.0" r="1.9"/>
<circle cx="269.7" cy="441.9" r="1.9"/>
<circle cx="218.5" cy="451.5" r="1.9"/>
<circle cx="229.1" cy="448.1" r="1.9"/>
<circle cx="266.5" cy="427.2" r="1.9"/>
<circle cx="245.7" cy="439.6" r="1.9"/>
<circle cx="229.1" cy="432.8" r="1.9"/>
<circle cx="247.1" cy="455.8" r="1.9"/>
<circle cx="283.9" cy="448.2" r="1.9"/>
<circle cx="298.0" cy="445.3" r="1.9"/>
<circle cx="271.7" cy="451.2" r="1.9"/>
<circle cx="209.5" cy="441.5" r="1.9"/>
<circle cx="274.8" cy="438.5" r="1.9"/>
<circle cx="196.7" cy="447.7" r="1.9"/>
<circle cx="269.4" cy="449.5" r="1.9"/>
<circle cx="258.3" cy="453.1" r="1.9"/>
<circle cx="220.2" cy="454.5" r="1.9"/>
<circle cx="248.5" cy="441.0" r="1.9"/>
<circle cx="328.0" cy="444.4" r="1.9"/>
<circle cx="291.6" cy="445.2" r="1.9"/>
<circle cx="174.0" cy="445.5" r="1.9"/>
<circle cx="247.4" cy="450.2" r="1.9"/>
<circle cx="260.6" cy="418.9" r="1.9"/>
<circle cx="237.1" cy="442.6" r="1.9"/>
<circle cx="287.4" cy="436.4" r="1.9"/>
<circle cx="279.6" cy="445.9" r="1.9"/>
<circle cx="311.7" cy="448.9" r="1.9"/>
<circle cx="196.0" cy="453.7" r="1.9"/>
<circle cx="278.6" cy="445.1" r="1.9"/>
<circle cx="174.4" cy="445.6" r="1.9"/>
<circle cx="239.1" cy="443.5" r="1.9"/>
<circle cx="289.0" cy="423.7" r="1.9"/>
<circle cx="238.4" cy="451.0" r="1.9"/>
<circle cx="265.1" cy="437.6" r="1.9"/>
<circle cx="205.0" cy="451.5" r="1.9"/>
<circle cx="295.6" cy="435.3" r="1.9"/>
<circle cx="267.4" cy="433.9" r="1.9"/>
<circle cx="294.7" cy="451.9" r="1.9"/>
<circle cx="211.1" cy="448.9" r="1.9"/>
<circle cx="202.8" cy="459.1" r="1.9"/>
<circle cx="219.0" cy="448.7" r="1.9"/>
<circle cx="177.1" cy="443.8" r="1.9"/>
<circle cx="252.9" cy="440.3" r="1.9"/>
<circle cx="230.9" cy="449.3" r="1.9"/>
<circle cx="271.1" cy="438.1" r="1.9"/>
<circle cx="277.8" cy="448.5" r="1.9"/>
<circle cx="216.0" cy="447.7" r="1.9"/>
<circle cx="213.3" cy="443.2" r="1.9"/>
<circle cx="250.8" cy="454.8" r="1.9"/>
<circle cx="268.7" cy="447.4" r="1.9"/>
<circle cx="283.6" cy="452.6" r="1.9"/>
<circle cx="278.3" cy="431.5" r="1.9"/>
<circle cx="269.4" cy="450.4" r="1.9"/>
<circle cx="285.9" cy="441.9" r="1.9"/>
<circle cx="189.2" cy="463.3" r="1.9"/>
<circle cx="173.4" cy="449.2" r="1.9"/>
<circle cx="231.7" cy="444.0" r="1.9"/>
<circle cx="322.5" cy="443.7" r="1.9"/>
<circle cx="210.7" cy="451.6" r="1.9"/>
<circle cx="190.2" cy="448.5" r="1.9"/>
<circle cx="252.9" cy="447.9" r="1.9"/>
<circle cx="173.0" cy="452.8" r="1.9"/>
<circle cx="256.1" cy="450.2" r="1.9"/>
<circle cx="289.7" cy="417.1" r="1.9"/>
<circle cx="179.3" cy="453.0" r="1.9"/>
<circle cx="219.6" cy="442.5" r="1.9"/>
<circle cx="241.3" cy="449.6" r="1.9"/>
<circle cx="311.4" cy="447.7" r="1.9"/>
<circle cx="271.0" cy="429.9" r="1.9"/>
<circle cx="185.3" cy="441.8" r="1.9"/>
<circle cx="226.2" cy="461.3" r="1.9"/>
<circle cx="213.4" cy="443.9" r="1.9"/>
<circle cx="174.3" cy="435.8" r="1.9"/>
<circle cx="274.6" cy="430.6" r="1.9"/>
<circle cx="321.1" cy="452.5" r="1.9"/>
<circle cx="202.9" cy="435.4" r="1.9"/>
<circle cx="275.7" cy="458.5" r="1.9"/>
<circle cx="306.8" cy="442.3" r="1.9"/>
<circle cx="313.9" cy="443.1" r="1.9"/>
<circle cx="313.2" cy="446.7" r="1.9"/>
<circle cx="269.1" cy="445.9" r="1.9"/>
<circle cx="210.0" cy="460.3" r="1.9"/>
<circle cx="185.8" cy="449.3" r="1.9"/>
<circle cx="302.7" cy="433.1" r="1.9"/>
<circle cx="196.9" cy="439.4" r="1.9"/>
<circle cx="229.8" cy="457.5" r="1.9"/>
<circle cx="179.9" cy="422.9" r="1.9"/>
<circle cx="198.9" cy="452.4" r="1.9"/>
<circle cx="196.6" cy="453.4" r="1.9"/>
<circle cx="237.9" cy="442.9" r="1.9"/>
<circle cx="254.7" cy="442.6" r="1.9"/>
<circle cx="193.1" cy="463.3" r="1.9"/>
<circle cx="217.9" cy="445.4" r="1.9"/>
<circle cx="207.5" cy="441.4" r="1.9"/>
<circle cx="280.9" cy="458.4" r="1.9"/>
<circle cx="170.2" cy="443.9" r="1.9"/>
<circle cx="228.0" cy="450.4" r="1.9"/>
<circle cx="197.3" cy="444.3" r="1.9"/>
<circle cx="214.6" cy="436.1" r="1.9"/>
<circle cx="246.5" cy="449.0" r="1.9"/>
<circle cx="220.1" cy="465.1" r="1.9"/>
<circle cx="170.3" cy="444.1" r="1.9"/>
<circle cx="298.7" cy="433.2" r="1.9"/>
<circle cx="266.0" cy="448.1" r="1.9"/>
<circle cx="206.6" cy="442.1" r="1.9"/>
<circle cx="262.5" cy="440.3" r="1.9"/>
<circle cx="227.1" cy="436.7" r="1.9"/>
<circle cx="204.6" cy="436.5" r="1.9"/>
<circle cx="172.7" cy="455.0" r="1.9"/>
<circle cx="280.7" cy="426.5" r="1.9"/>
<circle cx="212.2" cy="443.0" r="1.9"/>
<circle cx="221.7" cy="449.6" r="1.9"/>
<circle cx="173.3" cy="452.4" r="1.9"/>
<circle cx="220.0" cy="441.5" r="1.9"/>
<circle cx="258.2" cy="450.7" r="1.9"/>
<circle cx="247.5" cy="420.2" r="1.9"/>
<circle cx="182.3" cy="442.6" r="1.9"/>
<circle cx="233.1" cy="449.7" r="1.9"/>
<circle cx="208.3" cy="454.6" r="1.9"/>
<circle cx="207.0" cy="449.7" r="1.9"/>
<circle cx="259.4" cy="446.1" r="1.9"/>
<circle cx="189.8" cy="434.8" r="1.9"/>
<circle cx="188.5" cy="439.6" r="1.9"/>
<circle cx="270.9" cy="445.8" r="1.9"/>
<circle cx="242.2" cy="452.2" r="1.9"/>
<circle cx="227.1" cy="460.7" r="1.9"/>
<circle cx="221.9" cy="444.0" r="1.9"/>
<circle cx="270.7" cy="454.7" r="1.9"/>
<circle cx="199.4" cy="453.5" r="1.9"/>
<circle cx="242.4" cy="450.1" r="1.9"/>
<circle cx="205.8" cy="441.8" r="1.9"/>
<circle cx="208.6" cy="459.4" r="1.9"/>
<circle cx="298.2" cy="448.1" r="1.9"/>
<circle cx="207.0" cy="437.5" r="1.9"/>
<circle cx="248.8" cy="455.0" r="1.9"/>
<circle cx="181.3" cy="454.7" r="1.9"/>
<circle cx="222.0" cy="436.5" r="1.9"/>
<circle cx="211.1" cy="448.9" r="1.9"/>
<circle cx="246.2" cy="451.6" r="1.9"/>
<circle cx="253.5" cy="445.3" r="1.9"/>
<circle cx="209.3" cy="465.3" r="1.9"/>
<circle cx="198.2" cy="438.6" r="1.9"/>
<circle cx="226.1" cy="450.1" r="1.9"/>
<circle cx="209.6" cy="450.2" r="1.9"/>
<circle cx="186.8" cy="434.8" r="1.9"/>
<circle cx="271.3" cy="430.2" r="1.9"/>
<circle cx="208.3" cy="443.5" r="1.9"/>
<circle cx="234.6" cy="445.0" r="1.9"/>
<circle cx="192.8" cy="445.9" r="1.9"/>
<circle cx="241.5" cy="445.5" r="1.9"/>
<circle cx="317.2" cy="443.0" r="1.9"/>
<circle cx="207.7" cy="456.1" r="1.9"/>
<circle cx="247.5" cy="434.7" r="1.9"/>
<circle cx="195.2" cy="446.1" r="1.9"/>
<circle cx="207.3" cy="455.3" r="1.9"/>
<circle cx="291.6" cy="438.8" r="1.9"/>
<circle cx="265.7" cy="440.9" r="1.9"/>
<circle cx="252.3" cy="425.0" r="1.9"/>
<circle cx="255.4" cy="450.1" r="1.9"/>
<circle cx="246.9" cy="447.6" r="1.9"/>
<circle cx="201.1" cy="454.0" r="1.9"/>
<circle cx="236.9" cy="447.5" r="1.9"/>
<circle cx="196.5" cy="450.9" r="1.9"/>
<circle cx="193.0" cy="440.7" r="1.9"/>
<circle cx="229.6" cy="437.3" r="1.9"/>
<circle cx="248.6" cy="437.3" r="1.9"/>
<circle cx="254.9" cy="444.7" r="1.9"/>
<circle cx="241.9" cy="443.0" r="1.9"/>
<circle cx="285.7" cy="435.7" r="1.9"/>
<circle cx="207.9" cy="436.1" r="1.9"/>
<circle cx="284.0" cy="434.6" r="1.9"/>
<circle cx="315.6" cy="454.9" r="1.9"/>
<circle cx="304.2" cy="455.3" r="1.9"/>
<circle cx="271.6" cy="448.9" r="1.9"/>
<circle cx="266.9" cy="457.0" r="1.9"/>
<circle cx="247.2" cy="443.9" r="1.9"/>
<circle cx="244.7" cy="425.9" r="1.9"/>
<circle cx="280.3" cy="459.0" r="1.9"/>
<circle cx="289.2" cy="454.9" r="1.9"/>
<circle cx="248.9" cy="446.1" r="1.9"/>
<circle cx="191.2" cy="455.7" r="1.9"/>
<circle cx="222.6" cy="438.4" r="1.9"/>
<circle cx="178.7" cy="442.5" r="1.9"/>
<circle cx="188.2" cy="443.2" r="1.9"/>
<circle cx="198.4" cy="434.6" r="1.9"/>
<circle cx="286.2" cy="442.7" r="1.9"/>
<circle cx="182.1" cy="442.9" r="1.9"/>
<circle cx="197.4" cy="449.5" r="1.9"/>
<circle cx="277.0" cy="441.1" r="1.9"/>
<circle cx="234.3" cy="458.7" r="1.9"/>
<circle cx="264.0" cy="435.7" r="1.9"/>
<circle cx="253.0" cy="443.6" r="1.9"/>
<circle cx="184.3" cy="446.4" r="1.9"/>
<circle cx="208.7" cy="442.1" r="1.9"/>
<circle cx="254.7" cy="439.8" r="1.9"/>
<circle cx="191.1" cy="465.2" r="1.9"/>
<circle cx="242.4" cy="450.6" r="1.9"/>
<circle cx="176.4" cy="423.0" r="1.9"/>
<circle cx="200.2" cy="462.7" r="1.9"/>
<circle cx="290.0" cy="449.9" r="1.9"/>
<circle cx="251.8" cy="451.4" r="1.9"/>
<circle cx="304.5" cy="451.8" r="1.9"/>
<circle cx="227.7" cy="452.5" r="1.9"/>
<circle cx="223.2" cy="446.7" r="1.9"/>
<circle cx="274.0" cy="451.2" r="1.9"/>
<circle cx="238.7" cy="441.1" r="1.9"/>
<circle cx="204.2" cy="430.9" r="1.9"/>
<circle cx="286.8" cy="444.0" r="1.9"/>
<circle cx="279.7" cy="456.5" r="1.9"/>
<circle cx="287.4" cy="430.8" r="1.9"/>
<circle cx="205.4" cy="449.7" r="1.9"/>
<circle cx="324.3" cy="447.5" r="1.9"/>
<circle cx="179.7" cy="451.0" r="1.9"/>
<circle cx="171.6" cy="453.1" r="1.9"/>
<circle cx="194.8" cy="443.0" r="1.9"/>
<circle cx="265.4" cy="439.6" r="1.9"/>
<circle cx="227.6" cy="431.8" r="1.9"/>
<circle cx="299.6" cy="443.8" r="1.9"/>
<circle cx="235.8" cy="454.8" r="1.9"/>
<circle cx="328.0" cy="447.3" r="1.9"/>
<circle cx="228.0" cy="441.3" r="1.9"/>
<circle cx="188.4" cy="446.2" r="1.9"/>
<circle cx="246.3" cy="447.2" r="1.9"/>
<circle cx="243.9" cy="449.4" r="1.9"/>
<circle cx="228.9" cy="437.7" r="1.9"/>
<circle cx="190.0" cy="440.1" r="1.9"/>
<circle cx="288.1" cy="445.8" r="1.9"/>
<circle cx="260.6" cy="430.9" r="1.9"/>
<circle cx="198.0" cy="439.5" r="1.9"/>
<circle cx="279.4" cy="444.7" r="1.9"/>
<circle cx="267.7" cy="439.2" r="1.9"/>
<circle cx="268.8" cy="442.6" r="1.9"/>
<circle cx="273.7" cy="447.5" r="1.9"/>
<circle cx="171.8" cy="445.0" r="1.9"/>
<circle cx="226.1" cy="442.5" r="1.9"/>
<circle cx="191.0" cy="446.4" r="1.9"/>
<circle cx="251.3" cy="444.4" r="1.9"/>
<circle cx="227.0" cy="439.0" r="1.9"/>
<circle cx="292.9" cy="428.4" r="1.9"/>
<circle cx="226.5" cy="433.6" r="1.9"/>
<circle cx="222.7" cy="440.4" r="1.9"/>
<circle cx="258.1" cy="439.7" r="1.9"/>
<circle cx="221.6" cy="447.1" r="1.9"/>
<circle cx="208.5" cy="441.2" r="1.9"/>
<circle cx="177.1" cy="452.8" r="1.9"/>
<circle cx="260.4" cy="436.5" r="1.9"/>
<circle cx="284.6" cy="439.5" r="1.9"/>
<circle cx="196.4" cy="451.6" r="1.9"/>
<circle cx="266.6" cy="452.1" r="1.9"/>
<circle cx="194.2" cy="436.2" r="1.9"/>
<circle cx="259.8" cy="439.5" r="1.9"/>
<circle cx="287.5" cy="440.3" r="1.9"/>
<circle cx="259.6" cy="462.0" r="1.9"/>
<circle cx="237.2" cy="449.5" r="1.9"/>
<circle cx="304.5" cy="448.6" r="1.9"/>
<circle cx="227.1" cy="442.9" r="1.9"/>
<circle cx="214.4" cy="448.5" r="1.9"/>
<circle cx="217.4" cy="465.2" r="1.9"/>
<circle cx="213.9" cy="438.9" r="1.9"/>
<circle cx="214.1" cy="443.9" r="1.9"/>
<circle cx="282.9" cy="444.9" r="1.9"/>
<circle cx="248.5" cy="451.6" r="1.9"/>
<circle cx="284.0" cy="434.9" r="1.9"/>
<circle cx="260.6" cy="452.5" r="1.9"/>
<circle cx="306.7" cy="446.6" r="1.9"/>
<circle cx="169.4" cy="450.1" r="1.9"/>
<circle cx="188.0" cy="440.3" r="1.9"/>
<circle cx="291.3" cy="431.4" r="1.9"/>
<circle cx="279.5" cy="435.7" r="1.9"/>
<circle cx="237.5" cy="446.3" r="1.9"/>
<circle cx="191.9" cy="448.6" r="1.9"/>
<circle cx="234.8" cy="445.9" r="1.9"/>
<circle cx="260.8" cy="435.9" r="1.9"/>
<circle cx="236.3" cy="450.3" r="1.9"/>
<circle cx="228.8" cy="443.0" r="1.9"/>
<circle cx="194.8" cy="447.1" r="1.9"/>
<circle cx="242.6" cy="442.3" r="1.9"/>
<circle cx="252.2" cy="436.2" r="1.9"/>
<circle cx="223.6" cy="436.2" r="1.9"/>
<circle cx="250.4" cy="447.0" r="1.9"/>
<circle cx="244.0" cy="442.1" r="1.9"/>
<circle cx="187.0" cy="452.3" r="1.9"/>
<circle cx="202.3" cy="435.3" r="1.9"/>
<circle cx="190.2" cy="439.6" r="1.9"/>
<circle cx="188.8" cy="436.9" r="1.9"/>
<circle cx="272.8" cy="431.1" r="1.9"/>
<circle cx="216.0" cy="444.7" r="1.9"/>
<circle cx="209.7" cy="446.5" r="1.9"/>
<circle cx="228.6" cy="447.8" r="1.9"/>
<circle cx="266.8" cy="441.2" r="1.9"/>
<circle cx="209.7" cy="446.2" r="1.9"/>
<circle cx="294.4" cy="447.3" r="1.9"/>
<circle cx="257.6" cy="460.2" r="1.9"/>
<circle cx="254.1" cy="431.8" r="1.9"/>
<circle cx="214.5" cy="453.5" r="1.9"/>
<circle cx="272.6" cy="457.7" r="1.9"/>
<circle cx="325.7" cy="460.9" r="1.9"/>
<circle cx="229.0" cy="450.5" r="1.9"/>
<circle cx="231.2" cy="434.9" r="1.9"/>
<circle cx="280.3" cy="438.7" r="1.9"/>
<circle cx="192.9" cy="454.7" r="1.9"/>
<circle cx="259.7" cy="460.3" r="1.9"/>
<circle cx="226.1" cy="439.3" r="1.9"/>
<circle cx="276.6" cy="441.4" r="1.9"/>
<circle cx="169.9" cy="448.1" r="1.9"/>
<circle cx="197.3" cy="439.1" r="1.9"/>
<circle cx="186.0" cy="429.6" r="1.9"/>
<circle cx="208.8" cy="448.8" r="1.9"/>
<circle cx="319.9" cy="452.2" r="1.9"/>
<circle cx="279.1" cy="436.4" r="1.9"/>
<circle cx="258.2" cy="443.1" r="1.9"/>
<circle cx="299.4" cy="458.5" r="1.9"/>
<circle cx="193.7" cy="451.9" r="1.9"/>
<circle cx="199.9" cy="454.0" r="1.9"/>
<circle cx="281.3" cy="436.2" r="1.9"/>
<circle cx="262.4" cy="434.6" r="1.9"/>
<circle cx="204.6" cy="444.8" r="1.9"/>
<circle cx="269.9" cy="446.8" r="1.9"/>
<circle cx="179.0" cy="449.7" r="1.9"/>
<circle cx="280.9" cy="433.5" r="1.9"/>
<circle cx="187.0" cy="446.5" r="1.9"/>
<circle cx="210.0" cy="461.8" r="1.9"/>
<circle cx="203.2" cy="452.1" r="1.9"/>
<circle cx="205.6" cy="449.0" r="1.9"/>
<circle cx="244.3" cy="449.1" r="1.9"/>
<circle cx="257.5" cy="449.3" r="1.9"/>
<circle cx="245.3" cy="457.9" r="1.9"/>
<circle cx="228.9" cy="438.4" r="1.9"/>
<circle cx="223.2" cy="451.6" r="1.9"/>
<circle cx="267.4" cy="419.0" r="1.9"/>
<circle cx="293.4" cy="434.1" r="1.9"/>
<circle cx="254.5" cy="436.1" r="1.9"/>
<circle cx="258.6" cy="427.1" r="1.9"/>
<circle cx="267.1" cy="424.6" r="1.9"/>
<circle cx="287.9" cy="419.6" r="1.9"/>
<circle cx="267.8" cy="421.5" r="1.9"/>
<circle cx="279.2" cy="430.8" r="1.9"/>
<circle cx="276.6" cy="432.8" r="1.9"/>
<circle cx="258.1" cy="431.1" r="1.9"/>
<circle cx="262.3" cy="427.9" r="1.9"/>
<circle cx="274.0" cy="424.1" r="1.9"/>
<circle cx="277.6" cy="431.6" r="1.9"/>
<circle cx="280.4" cy="432.6" r="1.9"/>
<circle cx="296.7" cy="432.3" r="1.9"/>
<circle cx="261.3" cy="435.7" r="1.9"/>
<circle cx="254.8" cy="438.6" r="1.9"/>
<circle cx="289.2" cy="428.9" r="1.9"/>
<circle cx="282.1" cy="434.3" r="1.9"/>
<circle cx="297.3" cy="432.0" r="1.9"/>
<circle cx="274.0" cy="426.9" r="1.9"/>
<circle cx="284.8" cy="419.0" r="1.9"/>
<circle cx="260.3" cy="437.0" r="1.9"/>
<circle cx="263.0" cy="425.7" r="1.9"/>
<circle cx="253.9" cy="427.7" r="1.9"/>
<circle cx="263.5" cy="434.7" r="1.9"/>
<circle cx="269.5" cy="426.6" r="1.9"/>
<circle cx="292.9" cy="430.9" r="1.9"/>
<circle cx="281.5" cy="436.6" r="1.9"/>
<circle cx="260.7" cy="428.0" r="1.9"/>
<circle cx="255.1" cy="428.4" r="1.9"/>
<circle cx="292.0" cy="436.1" r="1.9"/>
<circle cx="289.6" cy="437.5" r="1.9"/>
<circle cx="275.7" cy="426.0" r="1.9"/>
<circle cx="268.5" cy="430.4" r="1.9"/>
<circle cx="287.8" cy="430.6" r="1.9"/>
<circle cx="280.2" cy="429.7" r="1.9"/>
<circle cx="253.0" cy="432.5" r="1.9"/>
<circle cx="273.1" cy="430.4" r="1.9"/>
<circle cx="255.1" cy="439.8" r="1.9"/>
</g>
<line x1="105.5" y1="450.0" x2="330.7" y2="438.0" stroke="#000" stroke-width="2.9" stroke-dasharray="10.8 4.7"/>
<rect x="94.30" y="333.80" width="249.70" height="166.30" fill="none" stroke="#000" stroke-width="1.7"/>
<line x1="87.30" y1="500.00" x2="94.30" y2="500.00" stroke="#000" stroke-width="1.7"/>
<text x="0.48" y="507.10" font-size="20.56" fill="#000" stroke="#000" stroke-width="0.3" transform="translate(68.66 0) scale(0.9945 1)">0</text>
<line x1="87.30" y1="444.63" x2="94.30" y2="444.63" stroke="#000" stroke-width="1.7"/>
<text x="0.68" y="451.73" font-size="20.56" fill="#000" stroke="#000" stroke-width="0.3" transform="translate(68.66 0) scale(0.9498 1)">1</text>
<line x1="87.30" y1="389.26" x2="94.30" y2="389.26" stroke="#000" stroke-width="1.7"/>
<text x="0.45" y="396.36" font-size="20.56" fill="#000" stroke="#000" stroke-width="0.3" transform="translate(68.66 0) scale(0.9586 1)">2</text>
<line x1="87.30" y1="333.89" x2="94.30" y2="333.89" stroke="#000" stroke-width="1.7"/>
<text x="0.76" y="340.99" font-size="20.56" fill="#000" stroke="#000" stroke-width="0.3" transform="translate(68.66 0) scale(0.9551 1)">3</text>
<line x1="105.53" y1="500.10" x2="105.53" y2="507.10" stroke="#000" stroke-width="1.7"/>
<text x="1.67 15.37 27.15" y="529.00" font-size="20.56" fill="#000" stroke="#000" stroke-width="0.3" transform="translate(85.06 0) scale(1.0576 1)">−10</text>
<line x1="184.00" y1="500.10" x2="184.00" y2="507.10" stroke="#000" stroke-width="1.7"/>
<text x="0.48" y="529.00" font-size="20.56" fill="#000" stroke="#000" stroke-width="0.3" transform="translate(177.83 0) scale(0.9945 1)">0</text>
<line x1="262.47" y1="500.10" x2="262.47" y2="507.10" stroke="#000" stroke-width="1.7"/>
<text x="0.52 13.30" y="529.00" font-size="20.56" fill="#000" stroke="#000" stroke-width="0.3" transform="translate(250.13 0) scale(0.9733 1)">10</text>
<line x1="340.94" y1="500.10" x2="340.94" y2="507.10" stroke="#000" stroke-width="1.7"/>
<text x="0.33 13.23" y="529.00" font-size="20.56" fill="#000" stroke="#000" stroke-width="0.3" transform="translate(328.60 0) scale(0.9769 1)">20</text>
<text x="-0.30 12.31 24.35 30.76 38.56 50.94 63.00 75.04 80.54 96.62" y="555.00" font-size="20.56" fill="#000" stroke="#000" stroke-width="0.1" transform="translate(168.28 0) scale(0.9924 1)">Td [deg C]</text>
<text x="0.42" y="416.95" font-size="20.56" fill="#000" stroke="#000" stroke-width="0.3" transform="rotate(-90 56.90 416.95) translate(50.16 0) scale(0.9023 1)">R</text>
<circle cx="123.7" cy="354.1" r="1.9"/>
<text x="-0.15 11.04 15.39 19.39 24.65 34.34 44.62 50.06" y="359.70" font-size="16.48" fill="#000" stroke="#000" stroke-width="0.2" transform="translate(151.80 0) scale(0.9941 1)">All data</text>
<g clip-path="url(#cbr)">
<circle cx="580.1" cy="350.1" r="1.9" fill="#ffa500"/>
<circle cx="582.4" cy="352.4" r="1.9" fill="#ffa500"/>
<circle cx="561.4" cy="357.9" r="1.9" fill="#ffa500"/>
<circle cx="564.1" cy="357.1" r="1.9" fill="#ffa500"/>
<circle cx="566.9" cy="355.6" r="1.9" fill="#ffa500"/>
<circle cx="569.2" cy="357.6" r="1.9" fill="#ffa500"/>
<circle cx="571.8" cy="360.2" r="1.9" fill="#ffa500"/>
<circle cx="574.7" cy="361.0" r="1.9" fill="#ffa500"/>
<circle cx="563.5" cy="364.9" r="1.9" fill="#ffa500"/>
<circle cx="568.4" cy="364.9" r="1.9" fill="#ffa500"/>
<circle cx="564.5" cy="369.5" r="1.9" fill="#ffa500"/>
<circle cx="571.8" cy="369.1" r="1.9" fill="#ffa500"/>
<circle cx="569.2" cy="373.4" r="1.9" fill="#ffa500"/>
<circle cx="584.8" cy="361.8" r="1.9" fill="#ffa500"/>
<circle cx="587.9" cy="361.0" r="1.9" fill="#ffa500"/>
<circle cx="590.2" cy="364.1" r="1.9" fill="#ffa500"/>
<circle cx="579.3" cy="367.2" r="1.9" fill="#ffa500"/>
<circle cx="584.0" cy="368.8" r="1.9" fill="#ffa500"/>
<circle cx="581.6" cy="371.1" r="1.9" fill="#ffa500"/>
<circle cx="579.3" cy="373.1" r="1.9" fill="#ffa500"/>
<circle cx="587.1" cy="371.9" r="1.9" fill="#ffa500"/>
<circle cx="589.4" cy="370.3" r="1.9" fill="#ffa500"/>
<circle cx="582.4" cy="375.8" r="1.9" fill="#ffa500"/>
<circle cx="584.8" cy="377.3" r="1.9" fill="#ffa500"/>
<circle cx="579.3" cy="379.3" r="1.9" fill="#ffa500"/>
<circle cx="588.6" cy="378.9" r="1.9" fill="#ffa500"/>
<circle cx="590.2" cy="381.2" r="1.9" fill="#ffa500"/>
<circle cx="587.1" cy="380.4" r="1.9" fill="#ffa500"/>
<circle cx="594.6" cy="358.2" r="1.9" fill="#ffa500"/>
<circle cx="599.3" cy="358.2" r="1.9" fill="#ffa500"/>
<circle cx="586.6" cy="361.0" r="1.9" fill="#ffa500"/>
<circle cx="590.4" cy="364.9" r="1.9" fill="#ffa500"/>
<circle cx="594.0" cy="363.3" r="1.9" fill="#ffa500"/>
<circle cx="596.2" cy="364.9" r="1.9" fill="#ffa500"/>
<circle cx="602.4" cy="366.9" r="1.9" fill="#ffa500"/>
<circle cx="592.8" cy="370.6" r="1.9" fill="#ffa500"/>
<circle cx="595.6" cy="371.1" r="1.9" fill="#ffa500"/>
<circle cx="588.1" cy="373.4" r="1.9" fill="#ffa500"/>
<circle cx="598.2" cy="375.0" r="1.9" fill="#ffa500"/>
<circle cx="602.4" cy="375.3" r="1.9" fill="#ffa500"/>
<circle cx="595.1" cy="379.3" r="1.9" fill="#ffa500"/>
<circle cx="600.6" cy="383.5" r="1.9" fill="#ffa500"/>
<circle cx="611.1" cy="383.5" r="1.9" fill="#ffa500"/>
<circle cx="622.0" cy="389.8" r="1.9" fill="#ffa500"/>
<circle cx="630.1" cy="391.8" r="1.9" fill="#ffa500"/>
<circle cx="628.2" cy="396.0" r="1.9" fill="#ffa500"/>
<circle cx="618.4" cy="402.2" r="1.9" fill="#ffa500"/>
<circle cx="606.0" cy="410.4" r="1.9" fill="#ffa500"/>
<circle cx="621.1" cy="408.4" r="1.9" fill="#ffa500"/>
<circle cx="616.9" cy="410.8" r="1.9" fill="#ffa500"/>
<circle cx="622.3" cy="412.6" r="1.9" fill="#ffa500"/>
<circle cx="625.7" cy="413.1" r="1.9" fill="#ffa500"/>
<circle cx="615.3" cy="414.6" r="1.9" fill="#ffa500"/>
<circle cx="629.3" cy="414.6" r="1.9" fill="#ffa500"/>
<circle cx="634.8" cy="412.6" r="1.9" fill="#ffa500"/>
<circle cx="638.7" cy="414.6" r="1.9" fill="#ffa500"/>
<circle cx="624.7" cy="417.8" r="1.9" fill="#ffa500"/>
<circle cx="636.3" cy="418.5" r="1.9" fill="#ffa500"/>
<circle cx="620.4" cy="414.0" r="1.9" fill="#ffa500"/>
<circle cx="626.0" cy="412.4" r="1.9" fill="#ffa500"/>
<circle cx="636.5" cy="418.8" r="1.9" fill="#ffa500"/>
<circle cx="593.0" cy="418.8" r="1.9" fill="#ffa500"/>
<circle cx="591.1" cy="422.9" r="1.9" fill="#ffa500"/>
<circle cx="594.7" cy="425.3" r="1.9" fill="#ffa500"/>
<circle cx="604.0" cy="422.9" r="1.9" fill="#ffa500"/>
<circle cx="613.2" cy="422.1" r="1.9" fill="#ffa500"/>
<circle cx="616.4" cy="425.3" r="1.9" fill="#ffa500"/>
<circle cx="619.6" cy="425.3" r="1.9" fill="#ffa500"/>
<circle cx="622.0" cy="426.9" r="1.9" fill="#ffa500"/>
<circle cx="623.6" cy="418.0" r="1.9" fill="#ffa500"/>
<circle cx="624.4" cy="422.9" r="1.9" fill="#ffa500"/>
<circle cx="627.6" cy="421.3" r="1.9" fill="#ffa500"/>
<circle cx="626.0" cy="425.3" r="1.9" fill="#ffa500"/>
<circle cx="630.9" cy="423.7" r="1.9" fill="#ffa500"/>
<circle cx="613.2" cy="430.9" r="1.9" fill="#ffa500"/>
<circle cx="627.6" cy="433.3" r="1.9" fill="#ffa500"/>
<circle cx="634.9" cy="433.3" r="1.9" fill="#ffa500"/>
<circle cx="642.1" cy="431.7" r="1.9" fill="#ffa500"/>
<circle cx="641.3" cy="434.9" r="1.9" fill="#ffa500"/>
<circle cx="615.6" cy="437.4" r="1.9" fill="#ffa500"/>
<circle cx="618.0" cy="439.8" r="1.9" fill="#ffa500"/>
<circle cx="625.2" cy="439.8" r="1.9" fill="#ffa500"/>
<circle cx="626.8" cy="441.4" r="1.9" fill="#ffa500"/>
<circle cx="629.2" cy="437.4" r="1.9" fill="#ffa500"/>
<circle cx="638.1" cy="437.4" r="1.9" fill="#ffa500"/>
<circle cx="441.8" cy="381.5" r="1.9" fill="#008000"/>
<circle cx="446.8" cy="385.9" r="1.9" fill="#008000"/>
<circle cx="458.1" cy="385.9" r="1.9" fill="#008000"/>
<circle cx="452.7" cy="396.0" r="1.9" fill="#008000"/>
<circle cx="455.8" cy="404.5" r="1.9" fill="#008000"/>
<circle cx="460.9" cy="410.4" r="1.9" fill="#008000"/>
<circle cx="475.7" cy="412.6" r="1.9" fill="#008000"/>
<circle cx="486.1" cy="393.7" r="1.9" fill="#008000"/>
<circle cx="499.8" cy="410.4" r="1.9" fill="#008000"/>
<circle cx="509.8" cy="381.2" r="1.9" fill="#008000"/>
<circle cx="508.4" cy="385.7" r="1.9" fill="#008000"/>
<circle cx="518.8" cy="383.4" r="1.9" fill="#008000"/>
<circle cx="521.0" cy="392.0" r="1.9" fill="#008000"/>
<circle cx="527.7" cy="390.0" r="1.9" fill="#008000"/>
<circle cx="519.9" cy="401.8" r="1.9" fill="#008000"/>
<circle cx="522.9" cy="404.2" r="1.9" fill="#008000"/>
<circle cx="528.3" cy="398.1" r="1.9" fill="#008000"/>
<circle cx="531.0" cy="398.1" r="1.9" fill="#008000"/>
<circle cx="528.3" cy="402.7" r="1.9" fill="#008000"/>
<circle cx="532.0" cy="404.2" r="1.9" fill="#008000"/>
<circle cx="527.7" cy="407.2" r="1.9" fill="#008000"/>
<circle cx="529.4" cy="408.5" r="1.9" fill="#008000"/>
<circle cx="511.1" cy="410.4" r="1.9" fill="#008000"/>
<circle cx="513.8" cy="409.4" r="1.9" fill="#008000"/>
<circle cx="516.5" cy="411.5" r="1.9" fill="#008000"/>
<circle cx="519.7" cy="408.3" r="1.9" fill="#008000"/>
<circle cx="520.8" cy="411.5" r="1.9" fill="#008000"/>
<circle cx="522.9" cy="413.7" r="1.9" fill="#008000"/>
<circle cx="515.4" cy="413.7" r="1.9" fill="#008000"/>
<circle cx="514.3" cy="416.9" r="1.9" fill="#008000"/>
<circle cx="514.3" cy="421.2" r="1.9" fill="#008000"/>
<circle cx="523.5" cy="416.3" r="1.9" fill="#008000"/>
<circle cx="526.1" cy="413.1" r="1.9" fill="#008000"/>
<circle cx="528.8" cy="423.1" r="1.9" fill="#008000"/>
<circle cx="524.0" cy="427.4" r="1.9" fill="#008000"/>
<circle cx="539.0" cy="395.9" r="1.9" fill="#008000"/>
<circle cx="538.5" cy="400.2" r="1.9" fill="#008000"/>
<circle cx="542.2" cy="398.6" r="1.9" fill="#008000"/>
<circle cx="544.4" cy="400.8" r="1.9" fill="#008000"/>
<circle cx="547.6" cy="395.9" r="1.9" fill="#008000"/>
<circle cx="547.6" cy="400.2" r="1.9" fill="#008000"/>
<circle cx="548.7" cy="404.5" r="1.9" fill="#008000"/>
<circle cx="549.2" cy="406.1" r="1.9" fill="#008000"/>
<circle cx="539.6" cy="406.1" r="1.9" fill="#008000"/>
<circle cx="542.2" cy="406.1" r="1.9" fill="#008000"/>
<circle cx="545.2" cy="408.8" r="1.9" fill="#008000"/>
<circle cx="537.4" cy="414.7" r="1.9" fill="#008000"/>
<circle cx="535.8" cy="417.4" r="1.9" fill="#008000"/>
<circle cx="539.0" cy="419.0" r="1.9" fill="#008000"/>
<circle cx="542.2" cy="421.2" r="1.9" fill="#008000"/>
<circle cx="545.5" cy="422.2" r="1.9" fill="#008000"/>
<circle cx="547.6" cy="420.1" r="1.9" fill="#008000"/>
<circle cx="548.7" cy="414.7" r="1.9" fill="#008000"/>
<circle cx="550.8" cy="419.0" r="1.9" fill="#008000"/>
<circle cx="553.5" cy="422.2" r="1.9" fill="#008000"/>
<circle cx="544.9" cy="424.9" r="1.9" fill="#008000"/>
<circle cx="546.5" cy="428.7" r="1.9" fill="#008000"/>
<circle cx="535.8" cy="429.8" r="1.9" fill="#008000"/>
<circle cx="558.3" cy="408.3" r="1.9" fill="#008000"/>
<circle cx="555.1" cy="426.5" r="1.9" fill="#008000"/>
<circle cx="529.0" cy="422.9" r="1.9" fill="#008000"/>
<circle cx="537.3" cy="414.5" r="1.9" fill="#008000"/>
<circle cx="535.4" cy="429.3" r="1.9" fill="#008000"/>
<circle cx="537.0" cy="431.7" r="1.9" fill="#008000"/>
<circle cx="548.3" cy="414.8" r="1.9" fill="#008000"/>
<circle cx="549.9" cy="418.8" r="1.9" fill="#008000"/>
<circle cx="538.6" cy="420.5" r="1.9" fill="#008000"/>
<circle cx="541.0" cy="422.1" r="1.9" fill="#008000"/>
<circle cx="545.9" cy="422.9" r="1.9" fill="#008000"/>
<circle cx="548.3" cy="423.7" r="1.9" fill="#008000"/>
<circle cx="544.2" cy="426.1" r="1.9" fill="#008000"/>
<circle cx="546.7" cy="429.3" r="1.9" fill="#008000"/>
<circle cx="548.3" cy="429.0" r="1.9" fill="#008000"/>
<circle cx="545.1" cy="433.3" r="1.9" fill="#008000"/>
<circle cx="544.2" cy="435.7" r="1.9" fill="#008000"/>
<circle cx="550.2" cy="435.7" r="1.9" fill="#008000"/>
<circle cx="543.4" cy="439.8" r="1.9" fill="#008000"/>
<circle cx="542.2" cy="443.8" r="1.9" fill="#008000"/>
<circle cx="543.4" cy="445.7" r="1.9" fill="#008000"/>
<circle cx="562.8" cy="445.7" r="1.9" fill="#008000"/>
<circle cx="574.0" cy="445.7" r="1.9" fill="#008000"/>
<circle cx="578.8" cy="447.0" r="1.9" fill="#008000"/>
<circle cx="578.0" cy="449.4" r="1.9" fill="#008000"/>
<circle cx="583.7" cy="448.3" r="1.9" fill="#008000"/>
<circle cx="579.6" cy="453.4" r="1.9" fill="#008000"/>
<circle cx="582.1" cy="455.9" r="1.9" fill="#008000"/>
<circle cx="583.3" cy="456.7" r="1.9" fill="#008000"/>
<circle cx="583.7" cy="462.3" r="1.9" fill="#008000"/>
<circle cx="587.7" cy="468.7" r="1.9" fill="#008000"/>
<circle cx="555.5" cy="422.1" r="1.9" fill="#008000"/>
<circle cx="567.6" cy="420.5" r="1.9" fill="#008000"/>
<circle cx="569.5" cy="422.9" r="1.9" fill="#008000"/>
<circle cx="570.8" cy="430.1" r="1.9" fill="#008000"/>
<circle cx="570.8" cy="414.8" r="1.9" fill="#008000"/>
<circle cx="585.0" cy="447.8" r="1.9" fill="#008000"/>
<circle cx="595.5" cy="454.2" r="1.9" fill="#008000"/>
<circle cx="599.2" cy="456.7" r="1.9" fill="#008000"/>
<circle cx="588.2" cy="469.2" r="1.9" fill="#008000"/>
<circle cx="602.7" cy="466.6" r="1.9" fill="#008000"/>
<circle cx="601.1" cy="471.1" r="1.9" fill="#008000"/>
<circle cx="605.9" cy="466.3" r="1.9" fill="#008000"/>
<circle cx="608.3" cy="464.7" r="1.9" fill="#008000"/>
<circle cx="610.7" cy="463.1" r="1.9" fill="#008000"/>
<circle cx="614.0" cy="469.2" r="1.9" fill="#008000"/>
<circle cx="618.0" cy="464.7" r="1.9" fill="#008000"/>
<circle cx="618.0" cy="458.6" r="1.9" fill="#008000"/>
<circle cx="626.8" cy="465.5" r="1.9" fill="#008000"/>
<circle cx="585.0" cy="456.7" r="1.9" fill="#008000"/>
<circle cx="511.2" cy="410.6" r="1.9" fill="#008000"/>
<circle cx="515.9" cy="412.0" r="1.9" fill="#008000"/>
<circle cx="519.3" cy="402.5" r="1.9" fill="#008000"/>
<circle cx="500.8" cy="399.9" r="1.9" fill="#008000"/>
<circle cx="520.2" cy="402.2" r="1.9" fill="#008000"/>
<circle cx="523.3" cy="404.5" r="1.9" fill="#008000"/>
<circle cx="540.1" cy="396.0" r="1.9" fill="#008000"/>
<circle cx="546.7" cy="396.0" r="1.9" fill="#008000"/>
<circle cx="548.2" cy="399.9" r="1.9" fill="#008000"/>
<circle cx="545.1" cy="402.2" r="1.9" fill="#008000"/>
<circle cx="541.2" cy="406.1" r="1.9" fill="#008000"/>
<circle cx="549.0" cy="404.5" r="1.9" fill="#008000"/>
<circle cx="549.5" cy="407.3" r="1.9" fill="#008000"/>
<circle cx="545.1" cy="408.9" r="1.9" fill="#008000"/>
<circle cx="526.4" cy="413.9" r="1.9" fill="#008000"/>
<circle cx="537.3" cy="414.6" r="1.9" fill="#008000"/>
<circle cx="548.2" cy="414.6" r="1.9" fill="#008000"/>
<circle cx="571.5" cy="414.6" r="1.9" fill="#008000"/>
<circle cx="533.4" cy="366.4" r="1.9" fill="#ff0000"/>
<circle cx="536.1" cy="364.1" r="1.9" fill="#ff0000"/>
<circle cx="538.9" cy="366.4" r="1.9" fill="#ff0000"/>
<circle cx="537.3" cy="371.1" r="1.9" fill="#ff0000"/>
<circle cx="539.7" cy="373.1" r="1.9" fill="#ff0000"/>
<circle cx="547.4" cy="364.9" r="1.9" fill="#ff0000"/>
<circle cx="550.1" cy="369.1" r="1.9" fill="#ff0000"/>
<circle cx="548.5" cy="373.1" r="1.9" fill="#ff0000"/>
<circle cx="557.9" cy="371.1" r="1.9" fill="#ff0000"/>
<circle cx="531.1" cy="375.0" r="1.9" fill="#ff0000"/>
<circle cx="531.9" cy="378.1" r="1.9" fill="#ff0000"/>
<circle cx="529.5" cy="383.5" r="1.9" fill="#ff0000"/>
<circle cx="523.6" cy="387.7" r="1.9" fill="#ff0000"/>
<circle cx="527.2" cy="387.7" r="1.9" fill="#ff0000"/>
<circle cx="530.3" cy="387.4" r="1.9" fill="#ff0000"/>
<circle cx="533.0" cy="387.7" r="1.9" fill="#ff0000"/>
<circle cx="541.7" cy="391.8" r="1.9" fill="#ff0000"/>
<circle cx="563.0" cy="383.5" r="1.9" fill="#ff0000"/>
<circle cx="559.4" cy="396.0" r="1.9" fill="#ff0000"/>
<circle cx="561.4" cy="399.9" r="1.9" fill="#ff0000"/>
<circle cx="564.1" cy="402.2" r="1.9" fill="#ff0000"/>
<circle cx="556.0" cy="403.8" r="1.9" fill="#ff0000"/>
<circle cx="560.7" cy="409.2" r="1.9" fill="#ff0000"/>
<circle cx="553.7" cy="412.3" r="1.9" fill="#ff0000"/>
<circle cx="555.7" cy="414.6" r="1.9" fill="#ff0000"/>
<circle cx="559.9" cy="413.9" r="1.9" fill="#ff0000"/>
<circle cx="566.9" cy="411.5" r="1.9" fill="#ff0000"/>
<circle cx="573.1" cy="417.0" r="1.9" fill="#ff0000"/>
<circle cx="577.0" cy="417.8" r="1.9" fill="#ff0000"/>
<circle cx="587.1" cy="417.0" r="1.9" fill="#ff0000"/>
<circle cx="529.4" cy="376.1" r="1.9" fill="#ff0000"/>
<circle cx="529.9" cy="383.4" r="1.9" fill="#ff0000"/>
<circle cx="562.9" cy="383.4" r="1.9" fill="#ff0000"/>
<circle cx="561.6" cy="400.8" r="1.9" fill="#ff0000"/>
<circle cx="557.3" cy="404.0" r="1.9" fill="#ff0000"/>
<circle cx="562.6" cy="407.2" r="1.9" fill="#ff0000"/>
<circle cx="561.0" cy="410.4" r="1.9" fill="#ff0000"/>
<circle cx="553.5" cy="412.6" r="1.9" fill="#ff0000"/>
<circle cx="555.1" cy="419.0" r="1.9" fill="#ff0000"/>
<circle cx="560.5" cy="415.3" r="1.9" fill="#ff0000"/>
<circle cx="559.4" cy="419.0" r="1.9" fill="#ff0000"/>
<circle cx="556.2" cy="424.9" r="1.9" fill="#ff0000"/>
<circle cx="560.3" cy="414.8" r="1.9" fill="#ff0000"/>
<circle cx="555.5" cy="418.8" r="1.9" fill="#ff0000"/>
<circle cx="556.3" cy="425.3" r="1.9" fill="#ff0000"/>
<circle cx="566.0" cy="411.6" r="1.9" fill="#ff0000"/>
<circle cx="569.2" cy="416.4" r="1.9" fill="#ff0000"/>
<circle cx="574.0" cy="418.0" r="1.9" fill="#ff0000"/>
<circle cx="577.2" cy="420.5" r="1.9" fill="#ff0000"/>
<circle cx="578.8" cy="422.9" r="1.9" fill="#ff0000"/>
<circle cx="566.8" cy="425.3" r="1.9" fill="#ff0000"/>
<circle cx="570.8" cy="426.9" r="1.9" fill="#ff0000"/>
<circle cx="570.8" cy="433.3" r="1.9" fill="#ff0000"/>
<circle cx="578.0" cy="430.9" r="1.9" fill="#ff0000"/>
<circle cx="584.5" cy="439.8" r="1.9" fill="#ff0000"/>
<circle cx="587.7" cy="417.2" r="1.9" fill="#ff0000"/>
<circle cx="586.9" cy="421.3" r="1.9" fill="#ff0000"/>
<circle cx="587.7" cy="425.3" r="1.9" fill="#ff0000"/>
<circle cx="586.1" cy="429.3" r="1.9" fill="#ff0000"/>
<circle cx="588.5" cy="432.5" r="1.9" fill="#ff0000"/>
<circle cx="581.3" cy="452.2" r="1.9" fill="#ff0000"/>
<circle cx="582.9" cy="452.2" r="1.9" fill="#ff0000"/>
<circle cx="588.2" cy="452.2" r="1.9" fill="#ff0000"/>
<circle cx="590.9" cy="450.2" r="1.9" fill="#ff0000"/>
<circle cx="586.6" cy="430.1" r="1.9" fill="#ff0000"/>
<circle cx="589.8" cy="431.7" r="1.9" fill="#ff0000"/>
<circle cx="590.6" cy="433.8" r="1.9" fill="#ff0000"/>
<circle cx="595.0" cy="431.2" r="1.9" fill="#ff0000"/>
<circle cx="602.4" cy="435.4" r="1.9" fill="#ff0000"/>
<circle cx="606.7" cy="437.7" r="1.9" fill="#ff0000"/>
<circle cx="601.1" cy="441.4" r="1.9" fill="#ff0000"/>
<circle cx="599.5" cy="443.8" r="1.9" fill="#ff0000"/>
<circle cx="605.9" cy="445.7" r="1.9" fill="#ff0000"/>
<circle cx="613.2" cy="445.7" r="1.9" fill="#ff0000"/>
<circle cx="597.9" cy="448.3" r="1.9" fill="#ff0000"/>
<circle cx="593.8" cy="448.6" r="1.9" fill="#ff0000"/>
<circle cx="585.0" cy="439.8" r="1.9" fill="#ff0000"/>
<line x1="438.7" y1="368.0" x2="666.3" y2="484.8" stroke="#008000" stroke-width="2.9" stroke-dasharray="10.8 4.7"/>
<line x1="517.1" y1="364.1" x2="624.4" y2="466.3" stroke="#ff0000" stroke-width="2.9" stroke-dasharray="10.8 4.7"/>
<line x1="556.0" y1="343.9" x2="666.3" y2="461.8" stroke="#ffa500" stroke-width="2.9" stroke-dasharray="10.8 4.7"/>
</g>
<rect x="427.50" y="333.80" width="249.90" height="166.30" fill="none" stroke="#000" stroke-width="1.7"/>
<line x1="420.50" y1="500.00" x2="427.50" y2="500.00" stroke="#000" stroke-width="1.7"/>
<text x="0.37 12.37 18.66" y="507.10" font-size="20.56" fill="#000" stroke="#000" stroke-width="0.3" transform="translate(383.15 0) scale(1.0124 1)">0.6</text>
<line x1="420.50" y1="458.48" x2="427.50" y2="458.48" stroke="#000" stroke-width="1.7"/>
<text x="0.44 12.53 18.92" y="465.58" font-size="20.56" fill="#000" stroke="#000" stroke-width="0.3" transform="translate(383.15 0) scale(1.0017 1)">0.8</text>
<line x1="420.50" y1="416.96" x2="427.50" y2="416.96" stroke="#000" stroke-width="1.7"/>
<text x="0.49 12.91 19.52" y="424.06" font-size="20.56" fill="#000" stroke="#000" stroke-width="0.3" transform="translate(383.15 0) scale(0.9778 1)">1.0</text>
<line x1="420.50" y1="375.44" x2="427.50" y2="375.44" stroke="#000" stroke-width="1.7"/>
<text x="0.60 13.19 19.70" y="382.54" font-size="20.56" fill="#000" stroke="#000" stroke-width="0.3" transform="translate(383.15 0) scale(0.9608 1)">1.2</text>
<line x1="420.50" y1="333.92" x2="427.50" y2="333.92" stroke="#000" stroke-width="1.7"/>
<text x="0.48 12.90 19.50" y="341.02" font-size="20.56" fill="#000" stroke="#000" stroke-width="0.3" transform="translate(383.15 0) scale(0.9783 1)">1.4</text>
<line x1="439.03" y1="500.10" x2="439.03" y2="507.10" stroke="#000" stroke-width="1.7"/>
<text x="1.67 15.37 27.15" y="529.00" font-size="20.56" fill="#000" stroke="#000" stroke-width="0.3" transform="translate(418.56 0) scale(1.0576 1)">−10</text>
<line x1="517.30" y1="500.10" x2="517.30" y2="507.10" stroke="#000" stroke-width="1.7"/>
<text x="0.48" y="529.00" font-size="20.56" fill="#000" stroke="#000" stroke-width="0.3" transform="translate(511.13 0) scale(0.9945 1)">0</text>
<line x1="595.57" y1="500.10" x2="595.57" y2="507.10" stroke="#000" stroke-width="1.7"/>
<text x="0.52 13.30" y="529.00" font-size="20.56" fill="#000" stroke="#000" stroke-width="0.3" transform="translate(583.23 0) scale(0.9733 1)">10</text>
<line x1="673.84" y1="500.10" x2="673.84" y2="507.10" stroke="#000" stroke-width="1.7"/>
<text x="0.33 13.23" y="529.00" font-size="20.56" fill="#000" stroke="#000" stroke-width="0.3" transform="translate(661.50 0) scale(0.9769 1)">20</text>
<text x="-0.30 12.31 24.35 30.76 38.56 50.94 63.00 75.04 80.54 96.62" y="555.00" font-size="20.56" fill="#000" stroke="#000" stroke-width="0.1" transform="translate(501.58 0) scale(0.9924 1)">Td [deg C]</text>
<circle cx="456.6" cy="432.4" r="1.9" fill="#ffa500"/>
<text x="0.11 9.63 19.07 23.62 28.77" y="438.00" font-size="16.48" fill="#000" stroke="#000" stroke-width="0.2" transform="translate(484.30 0) scale(1.0331 1)">delta</text>
<circle cx="456.6" cy="455.2" r="1.9" fill="#008000"/>
<text x="0.10 10.08 14.65 24.61 34.30" y="460.80" font-size="16.48" fill="#000" stroke="#000" stroke-width="0.2" transform="translate(484.30 0) scale(0.9817 1)">alpha</text>
<circle cx="456.6" cy="477.4" r="1.9" fill="#ff0000"/>
<text x="0.10 10.06 15.97 20.11 29.94 34.19 43.54 53.28" y="482.70" font-size="16.48" fill="#000" stroke="#000" stroke-width="0.2" transform="translate(484.30 0) scale(1.0155 1)">original</text>
</svg>
</body></html>
